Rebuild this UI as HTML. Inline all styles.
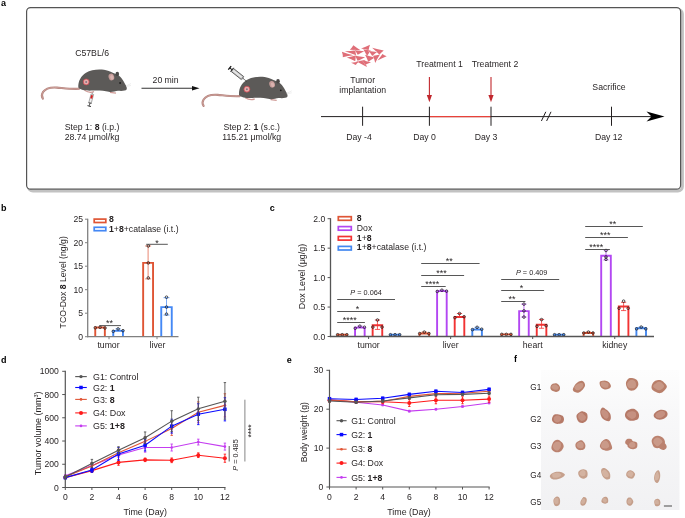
<!DOCTYPE html><html><head><meta charset="utf-8"><style>html,body{margin:0;padding:0;background:#fff;}svg{display:block;will-change:transform;font-family:"Liberation Sans",sans-serif;}</style></head><body>
<svg width="685" height="518" viewBox="0 0 685 518">
<rect width="685" height="518" fill="#fff"/>
<text x="1.00" y="5.80" font-size="9" text-anchor="start" font-weight="bold" fill="#000" >a</text>
<rect x="28.4" y="9.4" width="654" height="181.6" rx="4.5" fill="none" stroke="#c2c2c2" stroke-width="3"/>
<rect x="26.6" y="7.6" width="654" height="181.6" rx="4" fill="#fff" stroke="#555" stroke-width="1.2"/>
<text x="92.10" y="55.80" font-size="8.7" text-anchor="middle" font-weight="normal" fill="#231f20" >C57BL/6</text>
<text x="165.60" y="83.10" font-size="8.7" text-anchor="middle" font-weight="normal" fill="#231f20" >20 min</text>
<line x1="141.50" y1="88.20" x2="194.00" y2="88.20" stroke="#333" stroke-width="1.1"/>
<path d="M199.5,88.2 L192,85.9 L192,90.5 Z" fill="#111"/>
<text x="92.00" y="129.80" font-size="8.7" text-anchor="middle" font-weight="normal" fill="#231f20" >Step 1: <tspan font-weight="bold">8</tspan> (i.p.)</text>
<text x="92.00" y="140.10" font-size="8.7" text-anchor="middle" font-weight="normal" fill="#231f20" >28.74 μmol/kg</text>
<text x="251.70" y="129.80" font-size="8.7" text-anchor="middle" font-weight="normal" fill="#231f20" >Step 2: <tspan font-weight="bold">1</tspan> (s.c.)</text>
<text x="251.70" y="140.10" font-size="8.7" text-anchor="middle" font-weight="normal" fill="#231f20" >115.21 μmol/kg</text>
<g transform="translate(0,0)">
<path d="M79,88.8 C72,89.3 64,88.2 57,87.6 C50,87.1 45.2,88.8 42.9,92.2 C41.5,94.4 41.8,97 42.9,98.6" fill="none" stroke="#b3837d" stroke-width="2.1" stroke-linecap="round"/>
<path d="M79,88.8 C72,89.3 64,88.2 57,87.6 C50,87.1 45.2,88.8 42.9,92.2 C41.5,94.4 41.8,97 42.9,98.6" fill="none" stroke="#cfa19b" stroke-width="0.9" stroke-linecap="round"/>
<path d="M84.5,90.3 C88,92.5 92,92.5 94,91.5" fill="none" stroke="#cf9a96" stroke-width="1.3"/>
<path d="M110,92.3 L116,93.1" fill="none" stroke="#cf9a96" stroke-width="1.2"/>
<path d="M78.3,87.6 C78.0,81 81,76 86,72.8 C92,69 102,68.6 108,70.8 C112,72 114,73.5 116.5,74.3 C120,75.3 123,80 125.3,84.5 C126.4,86.4 127.3,88 126.6,89.5 C125.5,91 122,91 118,90.8 C115,91.2 112,92.5 108.8,91.8 C104,90.6 99,90.4 92,90.6 C86,90.8 80.5,90.2 78.3,87.6 Z" fill="#5c5a58"/>
<ellipse cx="117.3" cy="73.9" rx="1.8" ry="2.2" fill="#4a4846"/>
<ellipse cx="111.4" cy="77" rx="2.8" ry="3.4" fill="#c59b98" transform="rotate(-15 111.4 77)"/>
<ellipse cx="111.9" cy="77.4" rx="1.6" ry="2.3" fill="#d9b3b0" transform="rotate(-15 111.9 77.4)"/>
<circle cx="120.1" cy="83" r="0.9" fill="#1a1a1a"/>
<path d="M126,86 L131,83.5 M126,86.5 L131,85.5" stroke="#dcdcdc" stroke-width="0.5"/>
<circle cx="86.2" cy="81.9" r="3.0" fill="#e8a0a0" stroke="#c8404c" stroke-width="0.7"/>
<circle cx="86.2" cy="81.9" r="1.9" fill="#e4b4b0"/>
<circle cx="86.2" cy="81.9" r="1.0" fill="#8a7080"/>
</g>
<g transform="translate(90.8,100) rotate(15)">
<rect x="-1.3" y="-6" width="2.6" height="9" fill="#f0f0f0" stroke="#666" stroke-width="0.5"/>
<rect x="-1" y="-5" width="2" height="3.5" fill="#d42020"/>
<line x1="0" y1="-6" x2="0" y2="-8" stroke="#777" stroke-width="0.5"/>
<line x1="0" y1="3" x2="0" y2="6" stroke="#444" stroke-width="0.8"/>
<line x1="-1.8" y1="6.3" x2="1.8" y2="6.3" stroke="#222" stroke-width="1"/>
<line x1="-1.6" y1="3.2" x2="1.6" y2="3.2" stroke="#444" stroke-width="0.7"/>
</g>
<g transform="translate(160.7,7.3)">
<path d="M79,88.8 C72,89.3 64,88.2 57,87.6 C50,87.1 45.2,88.8 42.9,92.2 C41.5,94.4 41.8,97 42.9,98.6" fill="none" stroke="#b3837d" stroke-width="2.1" stroke-linecap="round"/>
<path d="M79,88.8 C72,89.3 64,88.2 57,87.6 C50,87.1 45.2,88.8 42.9,92.2 C41.5,94.4 41.8,97 42.9,98.6" fill="none" stroke="#cfa19b" stroke-width="0.9" stroke-linecap="round"/>
<path d="M84.5,90.3 C88,92.5 92,92.5 94,91.5" fill="none" stroke="#cf9a96" stroke-width="1.3"/>
<path d="M110,92.3 L116,93.1" fill="none" stroke="#cf9a96" stroke-width="1.2"/>
<path d="M78.3,87.6 C78.0,81 81,76 86,72.8 C92,69 102,68.6 108,70.8 C112,72 114,73.5 116.5,74.3 C120,75.3 123,80 125.3,84.5 C126.4,86.4 127.3,88 126.6,89.5 C125.5,91 122,91 118,90.8 C115,91.2 112,92.5 108.8,91.8 C104,90.6 99,90.4 92,90.6 C86,90.8 80.5,90.2 78.3,87.6 Z" fill="#5c5a58"/>
<ellipse cx="117.3" cy="73.9" rx="1.8" ry="2.2" fill="#4a4846"/>
<ellipse cx="111.4" cy="77" rx="2.8" ry="3.4" fill="#c59b98" transform="rotate(-15 111.4 77)"/>
<ellipse cx="111.9" cy="77.4" rx="1.6" ry="2.3" fill="#d9b3b0" transform="rotate(-15 111.9 77.4)"/>
<circle cx="120.1" cy="83" r="0.9" fill="#1a1a1a"/>
<path d="M126,86 L131,83.5 M126,86.5 L131,85.5" stroke="#dcdcdc" stroke-width="0.5"/>
<circle cx="86.2" cy="81.9" r="3.0" fill="#e8a0a0" stroke="#c8404c" stroke-width="0.7"/>
<circle cx="86.2" cy="81.9" r="1.9" fill="#e4b4b0"/>
<circle cx="86.2" cy="81.9" r="1.0" fill="#8a7080"/>
</g>
<g transform="translate(237.8,74.3) rotate(38.5)">
<rect x="-7" y="-1.9" width="13" height="3.8" fill="#c4c4c4" stroke="#3a3a3a" stroke-width="0.7"/>
<rect x="-6" y="-0.9" width="11" height="1.8" fill="#e6e6e6"/>
<path d="M6,-1.3 L7.6,-0.5 L7.6,0.5 L6,1.3 Z" fill="#888"/>
<line x1="7.6" y1="0" x2="11.5" y2="0" stroke="#333" stroke-width="0.6"/>
<line x1="-7" y1="0" x2="-10" y2="0" stroke="#222" stroke-width="1.1"/>
<line x1="-10.3" y1="-2.3" x2="-10.3" y2="2.3" stroke="#111" stroke-width="1.3"/>
<line x1="-7.4" y1="-2.4" x2="-7.4" y2="2.4" stroke="#222" stroke-width="0.9"/>
</g>
<line x1="321.00" y1="116.60" x2="652.00" y2="116.60" stroke="#231f20" stroke-width="1"/>
<line x1="429.40" y1="116.60" x2="491.00" y2="116.60" stroke="#e8423a" stroke-width="1.1"/>
<line x1="362.60" y1="106.70" x2="362.60" y2="125.80" stroke="#231f20" stroke-width="1"/>
<line x1="429.40" y1="106.70" x2="429.40" y2="125.80" stroke="#231f20" stroke-width="1"/>
<line x1="491.00" y1="106.70" x2="491.00" y2="125.80" stroke="#231f20" stroke-width="1"/>
<line x1="611.50" y1="106.70" x2="611.50" y2="125.80" stroke="#231f20" stroke-width="1"/>
<path d="M664.5,116.6 L646.5,111.6 L651.5,116.6 L646.5,121.6 Z" fill="#000"/>
<line x1="541.40" y1="121.00" x2="545.80" y2="111.80" stroke="#231f20" stroke-width="1"/>
<line x1="546.60" y1="121.00" x2="551.00" y2="111.80" stroke="#231f20" stroke-width="1"/>
<text x="359.00" y="140.10" font-size="8.7" text-anchor="middle" font-weight="normal" fill="#231f20" >Day -4</text>
<text x="424.60" y="140.10" font-size="8.7" text-anchor="middle" font-weight="normal" fill="#231f20" >Day 0</text>
<text x="486.00" y="140.10" font-size="8.7" text-anchor="middle" font-weight="normal" fill="#231f20" >Day 3</text>
<text x="608.70" y="140.30" font-size="8.7" text-anchor="middle" font-weight="normal" fill="#231f20" >Day 12</text>
<text x="439.60" y="67.00" font-size="8.7" text-anchor="middle" font-weight="normal" fill="#231f20" >Treatment 1</text>
<text x="495.00" y="67.00" font-size="8.7" text-anchor="middle" font-weight="normal" fill="#231f20" >Treatment 2</text>
<text x="609.00" y="89.90" font-size="8.7" text-anchor="middle" font-weight="normal" fill="#231f20" >Sacrifice</text>
<text x="362.70" y="83.40" font-size="8.7" text-anchor="middle" font-weight="normal" fill="#231f20" >Tumor</text>
<text x="362.70" y="93.40" font-size="8.7" text-anchor="middle" font-weight="normal" fill="#231f20" >implantation</text>
<line x1="429.40" y1="77.00" x2="429.40" y2="96.00" stroke="#c1272d" stroke-width="1.1"/>
<path d="M426.79999999999995,95 L432.0,95 L429.4,102.3 Z" fill="#c1272d"/>
<line x1="491.00" y1="77.00" x2="491.00" y2="96.00" stroke="#c1272d" stroke-width="1.1"/>
<path d="M488.4,95 L493.6,95 L491.0,102.3 Z" fill="#c1272d"/>
<g transform="translate(338,40) scale(0.07593)">
<path d="M51.6,153.9 Q125.1,180.0 205.0,201.1 Q130.1,211.1 63.4,227.0 Q64.9,191.0 51.6,153.9 Z" fill="#df6e78" stroke="#fff" stroke-width="5.5" stroke-linejoin="round" paint-order="stroke"/>
<path d="M155.4,127.7 Q184.9,100.0 202.6,68.7 Q245.1,102.5 297.0,133.6 Q225.0,127.6 155.4,127.7 Z" fill="#df6e78" stroke="#fff" stroke-width="5.5" stroke-linejoin="round" paint-order="stroke"/>
<path d="M303.9,113.3 Q365.0,91.0 421.9,63.8 Q407.6,101.0 404.2,136.9 Q357.4,122.1 303.9,113.3 Z" fill="#df6e78" stroke="#fff" stroke-width="5.5" stroke-linejoin="round" paint-order="stroke"/>
<path d="M449.2,101.3 Q527.0,123.9 602.6,139.0 Q568.6,164.1 547.2,195.7 Q503.4,148.0 449.2,101.3 Z" fill="#df6e78" stroke="#fff" stroke-width="5.5" stroke-linejoin="round" paint-order="stroke"/>
<path d="M520.6,269.1 Q557.4,226.0 585.5,184.2 Q608.6,202.4 640.9,213.7 Q581.0,238.5 520.6,269.1 Z" fill="#df6e78" stroke="#fff" stroke-width="5.5" stroke-linejoin="round" paint-order="stroke"/>
<path d="M90.2,148.0 Q164.9,143.9 231.8,133.9 Q228.6,166.5 240.0,201.1 Q168.4,172.5 90.2,148.0 Z" fill="#df6e78" stroke="#fff" stroke-width="5.5" stroke-linejoin="round" paint-order="stroke"/>
<path d="M219.5,136.5 Q281.5,145.0 345.8,148.3 Q298.6,169.0 259.7,193.2 Q244.9,164.0 219.5,136.5 Z" fill="#df6e78" stroke="#fff" stroke-width="5.5" stroke-linejoin="round" paint-order="stroke"/>
<path d="M332.4,122.7 Q382.5,133.9 432.7,136.8 Q403.6,172.5 381.9,213.5 Q360.9,166.5 332.4,122.7 Z" fill="#df6e78" stroke="#fff" stroke-width="5.5" stroke-linejoin="round" paint-order="stroke"/>
<path d="M404.0,146.1 Q458.5,154.9 513.8,157.9 Q478.6,182.5 451.2,211.0 Q431.9,177.5 404.0,146.1 Z" fill="#df6e78" stroke="#fff" stroke-width="5.5" stroke-linejoin="round" paint-order="stroke"/>
<path d="M115.9,231.2 Q181.5,218.4 242.2,199.4 Q228.6,238.5 226.9,278.4 Q174.9,252.0 115.9,231.2 Z" fill="#df6e78" stroke="#fff" stroke-width="5.5" stroke-linejoin="round" paint-order="stroke"/>
<path d="M223.4,207.4 Q288.5,219.9 356.8,226.3 Q303.6,250.0 258.8,278.2 Q246.9,242.0 223.4,207.4 Z" fill="#df6e78" stroke="#fff" stroke-width="5.5" stroke-linejoin="round" paint-order="stroke"/>
<path d="M356.2,193.2 Q420.0,215.9 486.0,230.9 Q438.6,257.1 399.8,289.9 Q383.4,241.0 356.2,193.2 Z" fill="#df6e78" stroke="#fff" stroke-width="5.5" stroke-linejoin="round" paint-order="stroke"/>
<path d="M461.9,205.8 Q506.5,203.9 552.8,191.6 Q518.6,245.0 490.3,302.6 Q479.9,251.1 461.9,205.8 Z" fill="#df6e78" stroke="#fff" stroke-width="5.5" stroke-linejoin="round" paint-order="stroke"/>
<path d="M156.6,255.2 Q189.9,281.9 215.6,302.4 Q235.1,318.6 262.8,341.4 Q210.0,298.5 156.6,255.2 Z" fill="#df6e78" stroke="#fff" stroke-width="5.5" stroke-linejoin="round" paint-order="stroke"/>
<path d="M236.6,278.9 Q300.9,274.9 356.9,262.4 Q362.1,308.0 380.5,356.8 Q311.0,315.0 236.6,278.9 Z" fill="#df6e78" stroke="#fff" stroke-width="5.5" stroke-linejoin="round" paint-order="stroke"/>
<path d="M316.8,263.3 Q375.0,280.0 434.8,291.6 Q393.6,307.0 360.4,327.0 Q343.4,295.0 316.8,263.3 Z" fill="#df6e78" stroke="#fff" stroke-width="5.5" stroke-linejoin="round" paint-order="stroke"/>
<path d="M171.6,299.4 Q225.0,292.5 277.8,281.7 Q250.1,305.0 230.6,328.9 Q204.9,312.5 171.6,299.4 Z" fill="#df6e78" stroke="#fff" stroke-width="5.5" stroke-linejoin="round" paint-order="stroke"/>
</g>
<text x="1.00" y="210.70" font-size="9" text-anchor="start" font-weight="bold" fill="#000" >b</text>
<path d="M95.25,336.70 L95.25,327.49 L104.85,327.49 L104.85,336.70" fill="#fff" stroke="#df5535" stroke-width="1.9"/>
<path d="M113.25,336.70 L113.25,330.92 L122.95,330.92 L122.95,336.70" fill="#fff" stroke="#4488f5" stroke-width="1.9"/>
<path d="M143.15,336.70 L143.15,262.91 L153.05,262.91 L153.05,336.70" fill="#fff" stroke="#df5535" stroke-width="1.9"/>
<path d="M161.25,336.70 L161.25,307.09 L171.75,307.09 L171.75,336.70" fill="#fff" stroke="#4488f5" stroke-width="1.9"/>
<line x1="148.10" y1="245.99" x2="148.10" y2="278.89" stroke="#df5535" stroke-width="0.7"/>
<line x1="145.10" y1="245.99" x2="151.10" y2="245.99" stroke="#df5535" stroke-width="0.7"/>
<line x1="145.10" y1="278.89" x2="151.10" y2="278.89" stroke="#df5535" stroke-width="0.7"/>
<line x1="166.50" y1="297.69" x2="166.50" y2="315.08" stroke="#4488f5" stroke-width="0.7"/>
<line x1="163.50" y1="297.69" x2="169.50" y2="297.69" stroke="#4488f5" stroke-width="0.7"/>
<line x1="163.50" y1="315.08" x2="169.50" y2="315.08" stroke="#4488f5" stroke-width="0.7"/>
<line x1="118.10" y1="328.90" x2="118.10" y2="330.92" stroke="#4488f5" stroke-width="0.8"/>
<line x1="115.50" y1="328.90" x2="120.70" y2="328.90" stroke="#4488f5" stroke-width="0.8"/>
<circle cx="95.30" cy="327.77" r="1.3" fill="none" stroke="#1a1a1a" stroke-width="0.75"/>
<circle cx="100.10" cy="327.30" r="1.3" fill="none" stroke="#1a1a1a" stroke-width="0.75"/>
<circle cx="105.00" cy="328.00" r="1.3" fill="none" stroke="#1a1a1a" stroke-width="0.75"/>
<circle cx="113.30" cy="331.30" r="1.3" fill="none" stroke="#1a1a1a" stroke-width="0.75"/>
<circle cx="118.10" cy="328.90" r="1.3" fill="none" stroke="#1a1a1a" stroke-width="0.75"/>
<circle cx="123.00" cy="330.68" r="1.3" fill="none" stroke="#1a1a1a" stroke-width="0.75"/>
<circle cx="148.30" cy="245.99" r="1.3" fill="none" stroke="#1a1a1a" stroke-width="0.75"/>
<circle cx="148.30" cy="262.91" r="1.3" fill="none" stroke="#1a1a1a" stroke-width="0.75"/>
<circle cx="148.30" cy="277.95" r="1.3" fill="none" stroke="#1a1a1a" stroke-width="0.75"/>
<circle cx="166.50" cy="297.22" r="1.3" fill="none" stroke="#1a1a1a" stroke-width="0.75"/>
<circle cx="166.50" cy="307.09" r="1.3" fill="none" stroke="#1a1a1a" stroke-width="0.75"/>
<circle cx="166.50" cy="314.14" r="1.3" fill="none" stroke="#1a1a1a" stroke-width="0.75"/>
<line x1="87.70" y1="218.80" x2="87.70" y2="337.30" stroke="#808080" stroke-width="1.3"/>
<line x1="87.00" y1="336.70" x2="178.50" y2="336.70" stroke="#808080" stroke-width="1.3"/>
<line x1="85.00" y1="336.70" x2="87.70" y2="336.70" stroke="#808080" stroke-width="1.0"/>
<text x="83.00" y="339.70" font-size="8.6" text-anchor="end" font-weight="normal" fill="#231f20" >0</text>
<line x1="85.00" y1="313.20" x2="87.70" y2="313.20" stroke="#808080" stroke-width="1.0"/>
<text x="83.00" y="316.20" font-size="8.6" text-anchor="end" font-weight="normal" fill="#231f20" >5</text>
<line x1="85.00" y1="289.70" x2="87.70" y2="289.70" stroke="#808080" stroke-width="1.0"/>
<text x="83.00" y="292.70" font-size="8.6" text-anchor="end" font-weight="normal" fill="#231f20" >10</text>
<line x1="85.00" y1="266.20" x2="87.70" y2="266.20" stroke="#808080" stroke-width="1.0"/>
<text x="83.00" y="269.20" font-size="8.6" text-anchor="end" font-weight="normal" fill="#231f20" >15</text>
<line x1="85.00" y1="242.70" x2="87.70" y2="242.70" stroke="#808080" stroke-width="1.0"/>
<text x="83.00" y="245.70" font-size="8.6" text-anchor="end" font-weight="normal" fill="#231f20" >20</text>
<line x1="85.00" y1="219.20" x2="87.70" y2="219.20" stroke="#808080" stroke-width="1.0"/>
<text x="83.00" y="222.20" font-size="8.6" text-anchor="end" font-weight="normal" fill="#231f20" >25</text>
<line x1="109.00" y1="336.70" x2="109.00" y2="339.20" stroke="#808080" stroke-width="1"/>
<line x1="157.00" y1="336.70" x2="157.00" y2="339.20" stroke="#808080" stroke-width="1"/>
<text x="108.50" y="347.50" font-size="8.7" text-anchor="middle" font-weight="normal" fill="#231f20" >tumor</text>
<text x="157.50" y="347.50" font-size="8.7" text-anchor="middle" font-weight="normal" fill="#231f20" >liver</text>
<text transform="translate(66.3,282.3) rotate(-90)" font-size="8.7" text-anchor="middle" fill="#231f20">TCO-Dox <tspan font-weight="bold">8</tspan> Level (ng/g)</text>
<rect x="94.2" y="219.1" width="11.6" height="3.4" fill="#fff" stroke="#df5535" stroke-width="1.7"/>
<rect x="94.2" y="227.3" width="11.6" height="3.4" fill="#fff" stroke="#4488f5" stroke-width="1.7"/>
<text x="109.00" y="222.20" font-size="8.7" text-anchor="start" font-weight="bold" fill="#231f20" >8</text>
<text x="109.00" y="232.00" font-size="8.7" text-anchor="start" font-weight="normal" fill="#231f20" ><tspan font-weight="bold">1</tspan>+<tspan font-weight="bold">8</tspan>+catalase (i.t.)</text>
<line x1="99.30" y1="325.60" x2="121.00" y2="325.60" stroke="#444" stroke-width="0.9"/>
<text x="109.50" y="326.10" font-size="9.0" text-anchor="middle" font-weight="normal" fill="#231f20" >**</text>
<line x1="146.20" y1="244.30" x2="167.80" y2="244.30" stroke="#444" stroke-width="0.9"/>
<text x="157.00" y="246.00" font-size="9.0" text-anchor="middle" font-weight="normal" fill="#231f20" >*</text>
<text x="269.80" y="210.70" font-size="9" text-anchor="start" font-weight="bold" fill="#000" >c</text>
<path d="M337.45,336.50 L337.45,334.73 L347.05,334.73 L347.05,336.50" fill="#fff" stroke="#df5535" stroke-width="1.9"/>
<circle cx="337.65" cy="334.73" r="1.3" fill="none" stroke="#1a1a1a" stroke-width="0.75"/>
<circle cx="342.25" cy="334.73" r="1.3" fill="none" stroke="#1a1a1a" stroke-width="0.75"/>
<circle cx="346.85" cy="334.73" r="1.3" fill="none" stroke="#1a1a1a" stroke-width="0.75"/>
<path d="M355.05,336.50 L355.05,327.67 L364.65,327.67 L364.65,336.50" fill="#fff" stroke="#b347f2" stroke-width="1.9"/>
<line x1="359.85" y1="326.19" x2="359.85" y2="327.67" stroke="#b347f2" stroke-width="0.8"/>
<line x1="357.25" y1="326.19" x2="362.45" y2="326.19" stroke="#b347f2" stroke-width="0.8"/>
<circle cx="355.25" cy="328.25" r="1.3" fill="none" stroke="#1a1a1a" stroke-width="0.75"/>
<circle cx="359.85" cy="326.19" r="1.3" fill="none" stroke="#1a1a1a" stroke-width="0.75"/>
<circle cx="364.45" cy="327.25" r="1.3" fill="none" stroke="#1a1a1a" stroke-width="0.75"/>
<path d="M372.65,336.50 L372.65,325.31 L382.25,325.31 L382.25,336.50" fill="#fff" stroke="#f23333" stroke-width="1.9"/>
<line x1="377.45" y1="320.01" x2="377.45" y2="329.43" stroke="#f23333" stroke-width="0.8"/>
<line x1="374.85" y1="320.01" x2="380.05" y2="320.01" stroke="#f23333" stroke-width="0.8"/>
<line x1="374.85" y1="329.43" x2="380.05" y2="329.43" stroke="#f23333" stroke-width="0.8"/>
<circle cx="372.85" cy="327.08" r="1.3" fill="none" stroke="#1a1a1a" stroke-width="0.75"/>
<circle cx="377.45" cy="320.01" r="1.3" fill="none" stroke="#1a1a1a" stroke-width="0.75"/>
<circle cx="382.05" cy="327.08" r="1.3" fill="none" stroke="#1a1a1a" stroke-width="0.75"/>
<path d="M390.25,336.50 L390.25,334.73 L399.85,334.73 L399.85,336.50" fill="#fff" stroke="#4488f0" stroke-width="1.9"/>
<circle cx="390.45" cy="334.73" r="1.3" fill="none" stroke="#1a1a1a" stroke-width="0.75"/>
<circle cx="395.05" cy="334.73" r="1.3" fill="none" stroke="#1a1a1a" stroke-width="0.75"/>
<circle cx="399.65" cy="334.73" r="1.3" fill="none" stroke="#1a1a1a" stroke-width="0.75"/>
<path d="M419.50,336.50 L419.50,333.56 L429.10,333.56 L429.10,336.50" fill="#fff" stroke="#df5535" stroke-width="1.9"/>
<line x1="424.30" y1="332.08" x2="424.30" y2="333.56" stroke="#df5535" stroke-width="0.8"/>
<line x1="421.70" y1="332.08" x2="426.90" y2="332.08" stroke="#df5535" stroke-width="0.8"/>
<circle cx="419.70" cy="333.56" r="1.3" fill="none" stroke="#1a1a1a" stroke-width="0.75"/>
<circle cx="424.30" cy="332.08" r="1.3" fill="none" stroke="#1a1a1a" stroke-width="0.75"/>
<circle cx="428.90" cy="333.56" r="1.3" fill="none" stroke="#1a1a1a" stroke-width="0.75"/>
<path d="M437.10,336.50 L437.10,291.15 L446.70,291.15 L446.70,336.50" fill="#fff" stroke="#b347f2" stroke-width="1.9"/>
<line x1="441.90" y1="290.20" x2="441.90" y2="291.15" stroke="#b347f2" stroke-width="0.8"/>
<line x1="439.30" y1="290.20" x2="444.50" y2="290.20" stroke="#b347f2" stroke-width="0.8"/>
<circle cx="437.30" cy="291.44" r="1.3" fill="none" stroke="#1a1a1a" stroke-width="0.75"/>
<circle cx="441.90" cy="290.20" r="1.3" fill="none" stroke="#1a1a1a" stroke-width="0.75"/>
<circle cx="446.50" cy="291.15" r="1.3" fill="none" stroke="#1a1a1a" stroke-width="0.75"/>
<path d="M454.70,336.50 L454.70,317.06 L464.30,317.06 L464.30,336.50" fill="#fff" stroke="#f23333" stroke-width="1.9"/>
<line x1="459.50" y1="313.53" x2="459.50" y2="317.06" stroke="#f23333" stroke-width="0.8"/>
<line x1="456.90" y1="313.53" x2="462.10" y2="313.53" stroke="#f23333" stroke-width="0.8"/>
<circle cx="454.90" cy="317.65" r="1.3" fill="none" stroke="#1a1a1a" stroke-width="0.75"/>
<circle cx="459.50" cy="313.53" r="1.3" fill="none" stroke="#1a1a1a" stroke-width="0.75"/>
<circle cx="464.10" cy="316.71" r="1.3" fill="none" stroke="#1a1a1a" stroke-width="0.75"/>
<path d="M472.30,336.50 L472.30,329.43 L481.90,329.43 L481.90,336.50" fill="#fff" stroke="#4488f0" stroke-width="1.9"/>
<line x1="477.10" y1="327.31" x2="477.10" y2="329.43" stroke="#4488f0" stroke-width="0.8"/>
<line x1="474.50" y1="327.31" x2="479.70" y2="327.31" stroke="#4488f0" stroke-width="0.8"/>
<circle cx="472.50" cy="329.61" r="1.3" fill="none" stroke="#1a1a1a" stroke-width="0.75"/>
<circle cx="477.10" cy="327.31" r="1.3" fill="none" stroke="#1a1a1a" stroke-width="0.75"/>
<circle cx="481.70" cy="329.20" r="1.3" fill="none" stroke="#1a1a1a" stroke-width="0.75"/>
<path d="M501.55,336.50 L501.55,334.38 L511.15,334.38 L511.15,336.50" fill="#fff" stroke="#df5535" stroke-width="1.9"/>
<circle cx="501.75" cy="334.38" r="1.3" fill="none" stroke="#1a1a1a" stroke-width="0.75"/>
<circle cx="506.35" cy="334.38" r="1.3" fill="none" stroke="#1a1a1a" stroke-width="0.75"/>
<circle cx="510.95" cy="334.38" r="1.3" fill="none" stroke="#1a1a1a" stroke-width="0.75"/>
<path d="M519.15,336.50 L519.15,311.17 L528.75,311.17 L528.75,336.50" fill="#fff" stroke="#b347f2" stroke-width="1.9"/>
<line x1="523.95" y1="304.11" x2="523.95" y2="317.06" stroke="#b347f2" stroke-width="0.8"/>
<line x1="521.35" y1="304.11" x2="526.55" y2="304.11" stroke="#b347f2" stroke-width="0.8"/>
<line x1="521.35" y1="317.06" x2="526.55" y2="317.06" stroke="#b347f2" stroke-width="0.8"/>
<circle cx="523.95" cy="304.11" r="1.3" fill="none" stroke="#1a1a1a" stroke-width="0.75"/>
<circle cx="523.95" cy="310.88" r="1.3" fill="none" stroke="#1a1a1a" stroke-width="0.75"/>
<circle cx="523.95" cy="317.06" r="1.3" fill="none" stroke="#1a1a1a" stroke-width="0.75"/>
<path d="M536.75,336.50 L536.75,324.72 L546.35,324.72 L546.35,336.50" fill="#fff" stroke="#f23333" stroke-width="1.9"/>
<line x1="541.55" y1="319.42" x2="541.55" y2="328.25" stroke="#f23333" stroke-width="0.8"/>
<line x1="538.95" y1="319.42" x2="544.15" y2="319.42" stroke="#f23333" stroke-width="0.8"/>
<line x1="538.95" y1="328.25" x2="544.15" y2="328.25" stroke="#f23333" stroke-width="0.8"/>
<circle cx="536.95" cy="326.31" r="1.3" fill="none" stroke="#1a1a1a" stroke-width="0.75"/>
<circle cx="541.55" cy="319.60" r="1.3" fill="none" stroke="#1a1a1a" stroke-width="0.75"/>
<circle cx="546.15" cy="325.72" r="1.3" fill="none" stroke="#1a1a1a" stroke-width="0.75"/>
<path d="M554.35,336.50 L554.35,334.73 L563.95,334.73 L563.95,336.50" fill="#fff" stroke="#4488f0" stroke-width="1.9"/>
<circle cx="554.55" cy="334.73" r="1.3" fill="none" stroke="#1a1a1a" stroke-width="0.75"/>
<circle cx="559.15" cy="334.73" r="1.3" fill="none" stroke="#1a1a1a" stroke-width="0.75"/>
<circle cx="563.75" cy="334.73" r="1.3" fill="none" stroke="#1a1a1a" stroke-width="0.75"/>
<path d="M583.60,336.50 L583.60,332.97 L593.20,332.97 L593.20,336.50" fill="#fff" stroke="#df5535" stroke-width="1.9"/>
<line x1="588.40" y1="332.08" x2="588.40" y2="332.97" stroke="#df5535" stroke-width="0.8"/>
<line x1="585.80" y1="332.08" x2="591.00" y2="332.08" stroke="#df5535" stroke-width="0.8"/>
<circle cx="583.80" cy="332.97" r="1.3" fill="none" stroke="#1a1a1a" stroke-width="0.75"/>
<circle cx="588.40" cy="332.08" r="1.3" fill="none" stroke="#1a1a1a" stroke-width="0.75"/>
<circle cx="593.00" cy="332.97" r="1.3" fill="none" stroke="#1a1a1a" stroke-width="0.75"/>
<path d="M601.20,336.50 L601.20,255.81 L610.80,255.81 L610.80,336.50" fill="#fff" stroke="#b347f2" stroke-width="1.9"/>
<line x1="606.00" y1="249.92" x2="606.00" y2="259.93" stroke="#b347f2" stroke-width="0.8"/>
<line x1="603.40" y1="249.92" x2="608.60" y2="249.92" stroke="#b347f2" stroke-width="0.8"/>
<line x1="603.40" y1="259.93" x2="608.60" y2="259.93" stroke="#b347f2" stroke-width="0.8"/>
<circle cx="606.00" cy="250.51" r="1.3" fill="none" stroke="#1a1a1a" stroke-width="0.75"/>
<circle cx="606.00" cy="256.99" r="1.3" fill="none" stroke="#1a1a1a" stroke-width="0.75"/>
<circle cx="606.00" cy="259.34" r="1.3" fill="none" stroke="#1a1a1a" stroke-width="0.75"/>
<path d="M618.80,336.50 L618.80,306.46 L628.40,306.46 L628.40,336.50" fill="#fff" stroke="#f23333" stroke-width="1.9"/>
<line x1="623.60" y1="302.34" x2="623.60" y2="310.58" stroke="#f23333" stroke-width="0.8"/>
<line x1="621.00" y1="302.34" x2="626.20" y2="302.34" stroke="#f23333" stroke-width="0.8"/>
<line x1="621.00" y1="310.58" x2="626.20" y2="310.58" stroke="#f23333" stroke-width="0.8"/>
<circle cx="619.00" cy="308.23" r="1.3" fill="none" stroke="#1a1a1a" stroke-width="0.75"/>
<circle cx="623.60" cy="301.16" r="1.3" fill="none" stroke="#1a1a1a" stroke-width="0.75"/>
<circle cx="628.20" cy="308.23" r="1.3" fill="none" stroke="#1a1a1a" stroke-width="0.75"/>
<path d="M636.40,336.50 L636.40,328.25 L646.00,328.25 L646.00,336.50" fill="#fff" stroke="#4488f0" stroke-width="1.9"/>
<line x1="641.20" y1="327.08" x2="641.20" y2="328.25" stroke="#4488f0" stroke-width="0.8"/>
<line x1="638.60" y1="327.08" x2="643.80" y2="327.08" stroke="#4488f0" stroke-width="0.8"/>
<circle cx="636.60" cy="328.84" r="1.3" fill="none" stroke="#1a1a1a" stroke-width="0.75"/>
<circle cx="641.20" cy="327.08" r="1.3" fill="none" stroke="#1a1a1a" stroke-width="0.75"/>
<circle cx="645.80" cy="328.84" r="1.3" fill="none" stroke="#1a1a1a" stroke-width="0.75"/>
<line x1="330.50" y1="218.20" x2="330.50" y2="337.10" stroke="#555" stroke-width="1.3"/>
<line x1="329.80" y1="336.50" x2="654.00" y2="336.50" stroke="#555" stroke-width="1.3"/>
<line x1="327.60" y1="336.50" x2="330.50" y2="336.50" stroke="#555" stroke-width="1.0"/>
<text x="325.30" y="339.50" font-size="8.6" text-anchor="end" font-weight="normal" fill="#231f20" >0.0</text>
<line x1="327.60" y1="307.05" x2="330.50" y2="307.05" stroke="#555" stroke-width="1.0"/>
<text x="325.30" y="310.05" font-size="8.6" text-anchor="end" font-weight="normal" fill="#231f20" >0.5</text>
<line x1="327.60" y1="277.60" x2="330.50" y2="277.60" stroke="#555" stroke-width="1.0"/>
<text x="325.30" y="280.60" font-size="8.6" text-anchor="end" font-weight="normal" fill="#231f20" >1.0</text>
<line x1="327.60" y1="248.15" x2="330.50" y2="248.15" stroke="#555" stroke-width="1.0"/>
<text x="325.30" y="251.15" font-size="8.6" text-anchor="end" font-weight="normal" fill="#231f20" >1.5</text>
<line x1="327.60" y1="218.70" x2="330.50" y2="218.70" stroke="#555" stroke-width="1.0"/>
<text x="325.30" y="221.70" font-size="8.6" text-anchor="end" font-weight="normal" fill="#231f20" >2.0</text>
<line x1="368.60" y1="336.50" x2="368.60" y2="339.00" stroke="#555" stroke-width="1"/>
<text x="368.60" y="347.60" font-size="8.7" text-anchor="middle" font-weight="normal" fill="#231f20" >tumor</text>
<line x1="450.65" y1="336.50" x2="450.65" y2="339.00" stroke="#555" stroke-width="1"/>
<text x="450.65" y="347.60" font-size="8.7" text-anchor="middle" font-weight="normal" fill="#231f20" >liver</text>
<line x1="532.70" y1="336.50" x2="532.70" y2="339.00" stroke="#555" stroke-width="1"/>
<text x="532.70" y="347.60" font-size="8.7" text-anchor="middle" font-weight="normal" fill="#231f20" >heart</text>
<line x1="614.75" y1="336.50" x2="614.75" y2="339.00" stroke="#555" stroke-width="1"/>
<text x="614.75" y="347.60" font-size="8.7" text-anchor="middle" font-weight="normal" fill="#231f20" >kidney</text>
<text transform="translate(304.7,276.5) rotate(-90)" font-size="8.9" text-anchor="middle" fill="#231f20">Dox Level (μg/g)</text>
<rect x="338.3" y="216.70" width="13" height="3.6" fill="#fff" stroke="#df5535" stroke-width="1.7"/>
<text x="356.80" y="220.70" font-size="8.7" text-anchor="start" font-weight="normal" fill="#231f20" ><tspan font-weight="bold">8</tspan></text>
<rect x="338.3" y="226.60" width="13" height="3.6" fill="#fff" stroke="#b347f2" stroke-width="1.7"/>
<text x="356.80" y="230.60" font-size="8.7" text-anchor="start" font-weight="normal" fill="#231f20" >Dox</text>
<rect x="338.3" y="236.50" width="13" height="3.6" fill="#fff" stroke="#f23333" stroke-width="1.7"/>
<text x="356.80" y="240.50" font-size="8.7" text-anchor="start" font-weight="normal" fill="#231f20" ><tspan font-weight="bold">1</tspan>+<tspan font-weight="bold">8</tspan></text>
<rect x="338.3" y="246.40" width="13" height="3.6" fill="#fff" stroke="#4488f0" stroke-width="1.7"/>
<text x="356.80" y="250.40" font-size="8.7" text-anchor="start" font-weight="normal" fill="#231f20" ><tspan font-weight="bold">1</tspan>+<tspan font-weight="bold">8</tspan>+catalase (i.t.)</text>
<line x1="337.20" y1="322.50" x2="364.90" y2="322.50" stroke="#444" stroke-width="0.9"/>
<text x="349.85" y="323.10" font-size="9.0" text-anchor="middle" font-weight="normal" fill="#231f20" >****</text>
<line x1="337.20" y1="311.50" x2="380.10" y2="311.50" stroke="#444" stroke-width="0.9"/>
<text x="357.45" y="312.10" font-size="9.0" text-anchor="middle" font-weight="normal" fill="#231f20" >*</text>
<line x1="337.20" y1="299.50" x2="395.00" y2="299.50" stroke="#444" stroke-width="0.9"/>
<text x="366.10" y="295.40" font-size="7.3" text-anchor="middle" font-weight="normal" fill="#231f20" ><tspan font-style="italic">P</tspan> = 0.064</text>
<line x1="421.20" y1="286.50" x2="445.70" y2="286.50" stroke="#444" stroke-width="0.9"/>
<text x="432.25" y="287.10" font-size="9.0" text-anchor="middle" font-weight="normal" fill="#231f20" >****</text>
<line x1="421.20" y1="275.50" x2="464.10" y2="275.50" stroke="#444" stroke-width="0.9"/>
<text x="441.45" y="276.10" font-size="9.0" text-anchor="middle" font-weight="normal" fill="#231f20" >***</text>
<line x1="421.20" y1="263.50" x2="479.60" y2="263.50" stroke="#444" stroke-width="0.9"/>
<text x="449.20" y="264.10" font-size="9.0" text-anchor="middle" font-weight="normal" fill="#231f20" >**</text>
<line x1="501.20" y1="301.50" x2="525.40" y2="301.50" stroke="#444" stroke-width="0.9"/>
<text x="512.10" y="302.10" font-size="9.0" text-anchor="middle" font-weight="normal" fill="#231f20" >**</text>
<line x1="501.20" y1="290.50" x2="544.10" y2="290.50" stroke="#444" stroke-width="0.9"/>
<text x="521.45" y="291.10" font-size="9.0" text-anchor="middle" font-weight="normal" fill="#231f20" >*</text>
<line x1="501.20" y1="279.50" x2="559.20" y2="279.50" stroke="#444" stroke-width="0.9"/>
<text x="531.70" y="274.80" font-size="7.3" text-anchor="middle" font-weight="normal" fill="#231f20" ><tspan font-style="italic">P</tspan> = 0.409</text>
<line x1="585.20" y1="249.50" x2="609.90" y2="249.50" stroke="#444" stroke-width="0.9"/>
<text x="596.35" y="250.10" font-size="9.0" text-anchor="middle" font-weight="normal" fill="#231f20" >****</text>
<line x1="585.20" y1="237.50" x2="627.90" y2="237.50" stroke="#444" stroke-width="0.9"/>
<text x="605.35" y="238.10" font-size="9.0" text-anchor="middle" font-weight="normal" fill="#231f20" >***</text>
<line x1="585.20" y1="226.50" x2="642.80" y2="226.50" stroke="#444" stroke-width="0.9"/>
<text x="612.80" y="227.10" font-size="9.0" text-anchor="middle" font-weight="normal" fill="#231f20" >**</text>
<text x="1.00" y="362.50" font-size="9" text-anchor="start" font-weight="bold" fill="#000" >d</text>
<line x1="65.30" y1="474.72" x2="65.30" y2="477.04" stroke="#c43cf0" stroke-width="0.9"/>
<line x1="64.10" y1="474.72" x2="66.50" y2="474.72" stroke="#c43cf0" stroke-width="0.9"/>
<line x1="64.10" y1="477.04" x2="66.50" y2="477.04" stroke="#c43cf0" stroke-width="0.9"/>
<line x1="91.90" y1="463.10" x2="91.90" y2="467.75" stroke="#c43cf0" stroke-width="0.9"/>
<line x1="90.70" y1="463.10" x2="93.10" y2="463.10" stroke="#c43cf0" stroke-width="0.9"/>
<line x1="90.70" y1="467.75" x2="93.10" y2="467.75" stroke="#c43cf0" stroke-width="0.9"/>
<line x1="118.50" y1="452.64" x2="118.50" y2="457.29" stroke="#c43cf0" stroke-width="0.9"/>
<line x1="117.30" y1="452.64" x2="119.70" y2="452.64" stroke="#c43cf0" stroke-width="0.9"/>
<line x1="117.30" y1="457.29" x2="119.70" y2="457.29" stroke="#c43cf0" stroke-width="0.9"/>
<line x1="145.10" y1="442.88" x2="145.10" y2="452.18" stroke="#c43cf0" stroke-width="0.9"/>
<line x1="143.90" y1="442.88" x2="146.30" y2="442.88" stroke="#c43cf0" stroke-width="0.9"/>
<line x1="143.90" y1="452.18" x2="146.30" y2="452.18" stroke="#c43cf0" stroke-width="0.9"/>
<line x1="171.70" y1="444.04" x2="171.70" y2="451.01" stroke="#c43cf0" stroke-width="0.9"/>
<line x1="170.50" y1="444.04" x2="172.90" y2="444.04" stroke="#c43cf0" stroke-width="0.9"/>
<line x1="170.50" y1="451.01" x2="172.90" y2="451.01" stroke="#c43cf0" stroke-width="0.9"/>
<line x1="198.30" y1="439.16" x2="198.30" y2="444.97" stroke="#c43cf0" stroke-width="0.9"/>
<line x1="197.10" y1="439.16" x2="199.50" y2="439.16" stroke="#c43cf0" stroke-width="0.9"/>
<line x1="197.10" y1="444.97" x2="199.50" y2="444.97" stroke="#c43cf0" stroke-width="0.9"/>
<line x1="224.90" y1="443.11" x2="224.90" y2="450.08" stroke="#c43cf0" stroke-width="0.9"/>
<line x1="223.70" y1="443.11" x2="226.10" y2="443.11" stroke="#c43cf0" stroke-width="0.9"/>
<line x1="223.70" y1="450.08" x2="226.10" y2="450.08" stroke="#c43cf0" stroke-width="0.9"/>
<polyline points="65.30,475.88 91.90,465.42 118.50,454.96 145.10,447.53 171.70,447.53 198.30,442.07 224.90,446.60" fill="none" stroke="#c43cf0" stroke-width="1.1"/>
<circle cx="65.30" cy="475.88" r="1.3" fill="#c43cf0"/>
<circle cx="91.90" cy="465.42" r="1.3" fill="#c43cf0"/>
<circle cx="118.50" cy="454.96" r="1.3" fill="#c43cf0"/>
<circle cx="145.10" cy="447.53" r="1.3" fill="#c43cf0"/>
<circle cx="171.70" cy="447.53" r="1.3" fill="#c43cf0"/>
<circle cx="198.30" cy="442.07" r="1.3" fill="#c43cf0"/>
<circle cx="224.90" cy="446.60" r="1.3" fill="#c43cf0"/>
<line x1="65.30" y1="476.69" x2="65.30" y2="478.55" stroke="#ff1a1a" stroke-width="0.9"/>
<line x1="64.10" y1="476.69" x2="66.50" y2="476.69" stroke="#ff1a1a" stroke-width="0.9"/>
<line x1="64.10" y1="478.55" x2="66.50" y2="478.55" stroke="#ff1a1a" stroke-width="0.9"/>
<line x1="91.90" y1="468.91" x2="91.90" y2="472.39" stroke="#ff1a1a" stroke-width="0.9"/>
<line x1="90.70" y1="468.91" x2="93.10" y2="468.91" stroke="#ff1a1a" stroke-width="0.9"/>
<line x1="90.70" y1="472.39" x2="93.10" y2="472.39" stroke="#ff1a1a" stroke-width="0.9"/>
<line x1="118.50" y1="459.50" x2="118.50" y2="465.31" stroke="#ff1a1a" stroke-width="0.9"/>
<line x1="117.30" y1="459.50" x2="119.70" y2="459.50" stroke="#ff1a1a" stroke-width="0.9"/>
<line x1="117.30" y1="465.31" x2="119.70" y2="465.31" stroke="#ff1a1a" stroke-width="0.9"/>
<line x1="145.10" y1="458.10" x2="145.10" y2="461.59" stroke="#ff1a1a" stroke-width="0.9"/>
<line x1="143.90" y1="458.10" x2="146.30" y2="458.10" stroke="#ff1a1a" stroke-width="0.9"/>
<line x1="143.90" y1="461.59" x2="146.30" y2="461.59" stroke="#ff1a1a" stroke-width="0.9"/>
<line x1="171.70" y1="457.99" x2="171.70" y2="462.63" stroke="#ff1a1a" stroke-width="0.9"/>
<line x1="170.50" y1="457.99" x2="172.90" y2="457.99" stroke="#ff1a1a" stroke-width="0.9"/>
<line x1="170.50" y1="462.63" x2="172.90" y2="462.63" stroke="#ff1a1a" stroke-width="0.9"/>
<line x1="198.30" y1="452.87" x2="198.30" y2="457.52" stroke="#ff1a1a" stroke-width="0.9"/>
<line x1="197.10" y1="452.87" x2="199.50" y2="452.87" stroke="#ff1a1a" stroke-width="0.9"/>
<line x1="197.10" y1="457.52" x2="199.50" y2="457.52" stroke="#ff1a1a" stroke-width="0.9"/>
<line x1="224.90" y1="454.15" x2="224.90" y2="462.28" stroke="#ff1a1a" stroke-width="0.9"/>
<line x1="223.70" y1="454.15" x2="226.10" y2="454.15" stroke="#ff1a1a" stroke-width="0.9"/>
<line x1="223.70" y1="462.28" x2="226.10" y2="462.28" stroke="#ff1a1a" stroke-width="0.9"/>
<polyline points="65.30,477.62 91.90,470.65 118.50,462.40 145.10,459.84 171.70,460.31 198.30,455.20 224.90,458.22" fill="none" stroke="#ff1a1a" stroke-width="1.1"/>
<circle cx="65.30" cy="477.62" r="2.0" fill="#ff1a1a"/>
<circle cx="91.90" cy="470.65" r="2.0" fill="#ff1a1a"/>
<circle cx="118.50" cy="462.40" r="2.0" fill="#ff1a1a"/>
<circle cx="145.10" cy="459.84" r="2.0" fill="#ff1a1a"/>
<circle cx="171.70" cy="460.31" r="2.0" fill="#ff1a1a"/>
<circle cx="198.30" cy="455.20" r="2.0" fill="#ff1a1a"/>
<circle cx="224.90" cy="458.22" r="2.0" fill="#ff1a1a"/>
<line x1="65.30" y1="475.53" x2="65.30" y2="477.86" stroke="#e05535" stroke-width="0.9"/>
<line x1="64.10" y1="475.53" x2="66.50" y2="475.53" stroke="#e05535" stroke-width="0.9"/>
<line x1="64.10" y1="477.86" x2="66.50" y2="477.86" stroke="#e05535" stroke-width="0.9"/>
<line x1="91.90" y1="462.52" x2="91.90" y2="469.49" stroke="#e05535" stroke-width="0.9"/>
<line x1="90.70" y1="462.52" x2="93.10" y2="462.52" stroke="#e05535" stroke-width="0.9"/>
<line x1="90.70" y1="469.49" x2="93.10" y2="469.49" stroke="#e05535" stroke-width="0.9"/>
<line x1="118.50" y1="449.15" x2="118.50" y2="456.13" stroke="#e05535" stroke-width="0.9"/>
<line x1="117.30" y1="449.15" x2="119.70" y2="449.15" stroke="#e05535" stroke-width="0.9"/>
<line x1="117.30" y1="456.13" x2="119.70" y2="456.13" stroke="#e05535" stroke-width="0.9"/>
<line x1="145.10" y1="436.72" x2="145.10" y2="446.02" stroke="#e05535" stroke-width="0.9"/>
<line x1="143.90" y1="436.72" x2="146.30" y2="436.72" stroke="#e05535" stroke-width="0.9"/>
<line x1="143.90" y1="446.02" x2="146.30" y2="446.02" stroke="#e05535" stroke-width="0.9"/>
<line x1="171.70" y1="421.50" x2="171.70" y2="435.44" stroke="#e05535" stroke-width="0.9"/>
<line x1="170.50" y1="421.50" x2="172.90" y2="421.50" stroke="#e05535" stroke-width="0.9"/>
<line x1="170.50" y1="435.44" x2="172.90" y2="435.44" stroke="#e05535" stroke-width="0.9"/>
<line x1="198.30" y1="401.86" x2="198.30" y2="422.78" stroke="#e05535" stroke-width="0.9"/>
<line x1="197.10" y1="401.86" x2="199.50" y2="401.86" stroke="#e05535" stroke-width="0.9"/>
<line x1="197.10" y1="422.78" x2="199.50" y2="422.78" stroke="#e05535" stroke-width="0.9"/>
<line x1="224.90" y1="393.73" x2="224.90" y2="416.97" stroke="#e05535" stroke-width="0.9"/>
<line x1="223.70" y1="393.73" x2="226.10" y2="393.73" stroke="#e05535" stroke-width="0.9"/>
<line x1="223.70" y1="416.97" x2="226.10" y2="416.97" stroke="#e05535" stroke-width="0.9"/>
<polyline points="65.30,476.69 91.90,466.00 118.50,452.64 145.10,441.37 171.70,428.47 198.30,412.32 224.90,405.35" fill="none" stroke="#e05535" stroke-width="1.1"/>
<circle cx="65.30" cy="476.69" r="1.3" fill="#e05535"/>
<circle cx="91.90" cy="466.00" r="1.3" fill="#e05535"/>
<circle cx="118.50" cy="452.64" r="1.3" fill="#e05535"/>
<circle cx="145.10" cy="441.37" r="1.3" fill="#e05535"/>
<circle cx="171.70" cy="428.47" r="1.3" fill="#e05535"/>
<circle cx="198.30" cy="412.32" r="1.3" fill="#e05535"/>
<circle cx="224.90" cy="405.35" r="1.3" fill="#e05535"/>
<line x1="65.30" y1="476.46" x2="65.30" y2="478.79" stroke="#0a0aff" stroke-width="0.9"/>
<line x1="64.10" y1="476.46" x2="66.50" y2="476.46" stroke="#0a0aff" stroke-width="0.9"/>
<line x1="64.10" y1="478.79" x2="66.50" y2="478.79" stroke="#0a0aff" stroke-width="0.9"/>
<line x1="91.90" y1="467.75" x2="91.90" y2="472.39" stroke="#0a0aff" stroke-width="0.9"/>
<line x1="90.70" y1="467.75" x2="93.10" y2="467.75" stroke="#0a0aff" stroke-width="0.9"/>
<line x1="90.70" y1="472.39" x2="93.10" y2="472.39" stroke="#0a0aff" stroke-width="0.9"/>
<line x1="118.50" y1="447.53" x2="118.50" y2="460.31" stroke="#0a0aff" stroke-width="0.9"/>
<line x1="117.30" y1="447.53" x2="119.70" y2="447.53" stroke="#0a0aff" stroke-width="0.9"/>
<line x1="117.30" y1="460.31" x2="119.70" y2="460.31" stroke="#0a0aff" stroke-width="0.9"/>
<line x1="145.10" y1="439.39" x2="145.10" y2="451.01" stroke="#0a0aff" stroke-width="0.9"/>
<line x1="143.90" y1="439.39" x2="146.30" y2="439.39" stroke="#0a0aff" stroke-width="0.9"/>
<line x1="143.90" y1="451.01" x2="146.30" y2="451.01" stroke="#0a0aff" stroke-width="0.9"/>
<line x1="171.70" y1="419.17" x2="171.70" y2="433.12" stroke="#0a0aff" stroke-width="0.9"/>
<line x1="170.50" y1="419.17" x2="172.90" y2="419.17" stroke="#0a0aff" stroke-width="0.9"/>
<line x1="170.50" y1="433.12" x2="172.90" y2="433.12" stroke="#0a0aff" stroke-width="0.9"/>
<line x1="198.30" y1="403.72" x2="198.30" y2="424.64" stroke="#0a0aff" stroke-width="0.9"/>
<line x1="197.10" y1="403.72" x2="199.50" y2="403.72" stroke="#0a0aff" stroke-width="0.9"/>
<line x1="197.10" y1="424.64" x2="199.50" y2="424.64" stroke="#0a0aff" stroke-width="0.9"/>
<line x1="224.90" y1="397.68" x2="224.90" y2="420.92" stroke="#0a0aff" stroke-width="0.9"/>
<line x1="223.70" y1="397.68" x2="226.10" y2="397.68" stroke="#0a0aff" stroke-width="0.9"/>
<line x1="223.70" y1="420.92" x2="226.10" y2="420.92" stroke="#0a0aff" stroke-width="0.9"/>
<polyline points="65.30,477.62 91.90,470.07 118.50,453.92 145.10,445.20 171.70,426.15 198.30,414.18 224.90,409.30" fill="none" stroke="#0a0aff" stroke-width="1.1"/>
<rect x="63.55" y="475.87" width="3.5" height="3.5" fill="#0a0aff"/>
<rect x="90.15" y="468.32" width="3.5" height="3.5" fill="#0a0aff"/>
<rect x="116.75" y="452.17" width="3.5" height="3.5" fill="#0a0aff"/>
<rect x="143.35" y="443.45" width="3.5" height="3.5" fill="#0a0aff"/>
<rect x="169.95" y="424.40" width="3.5" height="3.5" fill="#0a0aff"/>
<rect x="196.55" y="412.43" width="3.5" height="3.5" fill="#0a0aff"/>
<rect x="223.15" y="407.55" width="3.5" height="3.5" fill="#0a0aff"/>
<line x1="65.30" y1="475.88" x2="65.30" y2="478.20" stroke="#555555" stroke-width="0.9"/>
<line x1="64.10" y1="475.88" x2="66.50" y2="475.88" stroke="#555555" stroke-width="0.9"/>
<line x1="64.10" y1="478.20" x2="66.50" y2="478.20" stroke="#555555" stroke-width="0.9"/>
<line x1="91.90" y1="459.38" x2="91.90" y2="467.51" stroke="#555555" stroke-width="0.9"/>
<line x1="90.70" y1="459.38" x2="93.10" y2="459.38" stroke="#555555" stroke-width="0.9"/>
<line x1="90.70" y1="467.51" x2="93.10" y2="467.51" stroke="#555555" stroke-width="0.9"/>
<line x1="118.50" y1="446.71" x2="118.50" y2="453.69" stroke="#555555" stroke-width="0.9"/>
<line x1="117.30" y1="446.71" x2="119.70" y2="446.71" stroke="#555555" stroke-width="0.9"/>
<line x1="117.30" y1="453.69" x2="119.70" y2="453.69" stroke="#555555" stroke-width="0.9"/>
<line x1="145.10" y1="431.96" x2="145.10" y2="443.58" stroke="#555555" stroke-width="0.9"/>
<line x1="143.90" y1="431.96" x2="146.30" y2="431.96" stroke="#555555" stroke-width="0.9"/>
<line x1="143.90" y1="443.58" x2="146.30" y2="443.58" stroke="#555555" stroke-width="0.9"/>
<line x1="171.70" y1="410.69" x2="171.70" y2="431.61" stroke="#555555" stroke-width="0.9"/>
<line x1="170.50" y1="410.69" x2="172.90" y2="410.69" stroke="#555555" stroke-width="0.9"/>
<line x1="170.50" y1="431.61" x2="172.90" y2="431.61" stroke="#555555" stroke-width="0.9"/>
<line x1="198.30" y1="397.21" x2="198.30" y2="420.45" stroke="#555555" stroke-width="0.9"/>
<line x1="197.10" y1="397.21" x2="199.50" y2="397.21" stroke="#555555" stroke-width="0.9"/>
<line x1="197.10" y1="420.45" x2="199.50" y2="420.45" stroke="#555555" stroke-width="0.9"/>
<line x1="224.90" y1="382.57" x2="224.90" y2="419.17" stroke="#555555" stroke-width="0.9"/>
<line x1="223.70" y1="382.57" x2="226.10" y2="382.57" stroke="#555555" stroke-width="0.9"/>
<line x1="223.70" y1="419.17" x2="226.10" y2="419.17" stroke="#555555" stroke-width="0.9"/>
<polyline points="65.30,477.04 91.90,463.45 118.50,450.20 145.10,437.77 171.70,421.15 198.30,408.83 224.90,401.16" fill="none" stroke="#555555" stroke-width="1.1"/>
<circle cx="65.30" cy="477.04" r="1.7" fill="#555555"/>
<circle cx="91.90" cy="463.45" r="1.7" fill="#555555"/>
<circle cx="118.50" cy="450.20" r="1.7" fill="#555555"/>
<circle cx="145.10" cy="437.77" r="1.7" fill="#555555"/>
<circle cx="171.70" cy="421.15" r="1.7" fill="#555555"/>
<circle cx="198.30" cy="408.83" r="1.7" fill="#555555"/>
<circle cx="224.90" cy="401.16" r="1.7" fill="#555555"/>
<line x1="65.30" y1="370.80" x2="65.30" y2="488.10" stroke="#555" stroke-width="1.2"/>
<line x1="64.70" y1="487.50" x2="225.50" y2="487.50" stroke="#555" stroke-width="1.2"/>
<line x1="62.20" y1="487.50" x2="65.30" y2="487.50" stroke="#555" stroke-width="1"/>
<text x="58.90" y="490.50" font-size="8.6" text-anchor="end" font-weight="normal" fill="#231f20" >0</text>
<line x1="62.20" y1="464.26" x2="65.30" y2="464.26" stroke="#555" stroke-width="1"/>
<text x="58.90" y="467.26" font-size="8.6" text-anchor="end" font-weight="normal" fill="#231f20" >200</text>
<line x1="62.20" y1="441.02" x2="65.30" y2="441.02" stroke="#555" stroke-width="1"/>
<text x="58.90" y="444.02" font-size="8.6" text-anchor="end" font-weight="normal" fill="#231f20" >400</text>
<line x1="62.20" y1="417.78" x2="65.30" y2="417.78" stroke="#555" stroke-width="1"/>
<text x="58.90" y="420.78" font-size="8.6" text-anchor="end" font-weight="normal" fill="#231f20" >600</text>
<line x1="62.20" y1="394.54" x2="65.30" y2="394.54" stroke="#555" stroke-width="1"/>
<text x="58.90" y="397.54" font-size="8.6" text-anchor="end" font-weight="normal" fill="#231f20" >800</text>
<line x1="62.20" y1="371.30" x2="65.30" y2="371.30" stroke="#555" stroke-width="1"/>
<text x="58.90" y="374.30" font-size="8.6" text-anchor="end" font-weight="normal" fill="#231f20" >1000</text>
<line x1="65.30" y1="487.50" x2="65.30" y2="490.00" stroke="#555" stroke-width="1"/>
<text x="65.30" y="499.90" font-size="8.6" text-anchor="middle" font-weight="normal" fill="#231f20" >0</text>
<line x1="91.90" y1="487.50" x2="91.90" y2="490.00" stroke="#555" stroke-width="1"/>
<text x="91.90" y="499.90" font-size="8.6" text-anchor="middle" font-weight="normal" fill="#231f20" >2</text>
<line x1="118.50" y1="487.50" x2="118.50" y2="490.00" stroke="#555" stroke-width="1"/>
<text x="118.50" y="499.90" font-size="8.6" text-anchor="middle" font-weight="normal" fill="#231f20" >4</text>
<line x1="145.10" y1="487.50" x2="145.10" y2="490.00" stroke="#555" stroke-width="1"/>
<text x="145.10" y="499.90" font-size="8.6" text-anchor="middle" font-weight="normal" fill="#231f20" >6</text>
<line x1="171.70" y1="487.50" x2="171.70" y2="490.00" stroke="#555" stroke-width="1"/>
<text x="171.70" y="499.90" font-size="8.6" text-anchor="middle" font-weight="normal" fill="#231f20" >8</text>
<line x1="198.30" y1="487.50" x2="198.30" y2="490.00" stroke="#555" stroke-width="1"/>
<text x="198.30" y="499.90" font-size="8.6" text-anchor="middle" font-weight="normal" fill="#231f20" >10</text>
<line x1="224.90" y1="487.50" x2="224.90" y2="490.00" stroke="#555" stroke-width="1"/>
<text x="224.90" y="499.90" font-size="8.6" text-anchor="middle" font-weight="normal" fill="#231f20" >12</text>
<text x="145.20" y="514.80" font-size="8.9" text-anchor="middle" font-weight="normal" fill="#231f20" >Time (Day)</text>
<text transform="translate(41.0,433.3) rotate(-90)" font-size="9" text-anchor="middle" fill="#231f20">Tumor volume (mm<tspan font-size="5.5" dy="-3">3</tspan><tspan dy="3">)</tspan></text>
<line x1="75.20" y1="376.60" x2="86.80" y2="376.60" stroke="#555555" stroke-width="1.1"/>
<circle cx="81.00" cy="376.60" r="1.7" fill="#555555"/>
<text x="93.00" y="379.70" font-size="8.9" text-anchor="start" font-weight="normal" fill="#231f20" >G1: Control</text>
<line x1="75.20" y1="387.50" x2="86.80" y2="387.50" stroke="#0a0aff" stroke-width="1.1"/>
<rect x="79.25" y="385.75" width="3.5" height="3.5" fill="#0a0aff"/>
<text x="93.00" y="390.60" font-size="8.9" text-anchor="start" font-weight="normal" fill="#231f20" >G2: <tspan font-weight="bold">1</tspan></text>
<line x1="75.20" y1="399.40" x2="86.80" y2="399.40" stroke="#e05535" stroke-width="1.1"/>
<circle cx="81.00" cy="399.40" r="1.3" fill="#e05535"/>
<text x="93.00" y="402.50" font-size="8.9" text-anchor="start" font-weight="normal" fill="#231f20" >G3: <tspan font-weight="bold">8</tspan></text>
<line x1="75.20" y1="412.90" x2="86.80" y2="412.90" stroke="#ff1a1a" stroke-width="1.1"/>
<circle cx="81.00" cy="412.90" r="2.0" fill="#ff1a1a"/>
<text x="93.00" y="416.00" font-size="8.9" text-anchor="start" font-weight="normal" fill="#231f20" >G4: Dox</text>
<line x1="75.20" y1="425.90" x2="86.80" y2="425.90" stroke="#c43cf0" stroke-width="1.1"/>
<circle cx="81.00" cy="425.90" r="1.3" fill="#c43cf0"/>
<text x="93.00" y="429.00" font-size="8.9" text-anchor="start" font-weight="normal" fill="#231f20" >G5: <tspan font-weight="bold">1+8</tspan></text>
<line x1="244.90" y1="399.70" x2="244.90" y2="461.50" stroke="#777" stroke-width="0.9"/>
<text transform="translate(253.6,431) rotate(-90)" font-size="8.5" text-anchor="middle" fill="#231f20">****</text>
<line x1="229.20" y1="446.00" x2="229.20" y2="461.50" stroke="#333" stroke-width="0.8"/>
<text transform="translate(238.2,455) rotate(-90)" font-size="7.3" text-anchor="middle" fill="#231f20"><tspan font-style="italic">P</tspan> = 0.485</text>
<text x="286.80" y="362.50" font-size="9" text-anchor="start" font-weight="bold" fill="#000" >e</text>
<line x1="329.50" y1="399.09" x2="329.50" y2="400.64" stroke="#c43cf0" stroke-width="0.9"/>
<line x1="328.30" y1="399.09" x2="330.70" y2="399.09" stroke="#c43cf0" stroke-width="0.9"/>
<line x1="328.30" y1="400.64" x2="330.70" y2="400.64" stroke="#c43cf0" stroke-width="0.9"/>
<line x1="356.10" y1="401.42" x2="356.10" y2="402.98" stroke="#c43cf0" stroke-width="0.9"/>
<line x1="354.90" y1="401.42" x2="357.30" y2="401.42" stroke="#c43cf0" stroke-width="0.9"/>
<line x1="354.90" y1="402.98" x2="357.30" y2="402.98" stroke="#c43cf0" stroke-width="0.9"/>
<line x1="382.70" y1="404.14" x2="382.70" y2="405.70" stroke="#c43cf0" stroke-width="0.9"/>
<line x1="381.50" y1="404.14" x2="383.90" y2="404.14" stroke="#c43cf0" stroke-width="0.9"/>
<line x1="381.50" y1="405.70" x2="383.90" y2="405.70" stroke="#c43cf0" stroke-width="0.9"/>
<line x1="409.30" y1="410.37" x2="409.30" y2="411.92" stroke="#c43cf0" stroke-width="0.9"/>
<line x1="408.10" y1="410.37" x2="410.50" y2="410.37" stroke="#c43cf0" stroke-width="0.9"/>
<line x1="408.10" y1="411.92" x2="410.50" y2="411.92" stroke="#c43cf0" stroke-width="0.9"/>
<line x1="435.90" y1="408.42" x2="435.90" y2="409.98" stroke="#c43cf0" stroke-width="0.9"/>
<line x1="434.70" y1="408.42" x2="437.10" y2="408.42" stroke="#c43cf0" stroke-width="0.9"/>
<line x1="434.70" y1="409.98" x2="437.10" y2="409.98" stroke="#c43cf0" stroke-width="0.9"/>
<line x1="462.50" y1="405.70" x2="462.50" y2="407.25" stroke="#c43cf0" stroke-width="0.9"/>
<line x1="461.30" y1="405.70" x2="463.70" y2="405.70" stroke="#c43cf0" stroke-width="0.9"/>
<line x1="461.30" y1="407.25" x2="463.70" y2="407.25" stroke="#c43cf0" stroke-width="0.9"/>
<line x1="489.10" y1="402.20" x2="489.10" y2="403.75" stroke="#c43cf0" stroke-width="0.9"/>
<line x1="487.90" y1="402.20" x2="490.30" y2="402.20" stroke="#c43cf0" stroke-width="0.9"/>
<line x1="487.90" y1="403.75" x2="490.30" y2="403.75" stroke="#c43cf0" stroke-width="0.9"/>
<polyline points="329.50,399.86 356.10,402.20 382.70,404.92 409.30,411.14 435.90,409.20 462.50,406.48 489.10,402.98" fill="none" stroke="#c43cf0" stroke-width="1.1"/>
<circle cx="329.50" cy="399.86" r="1.3" fill="#c43cf0"/>
<circle cx="356.10" cy="402.20" r="1.3" fill="#c43cf0"/>
<circle cx="382.70" cy="404.92" r="1.3" fill="#c43cf0"/>
<circle cx="409.30" cy="411.14" r="1.3" fill="#c43cf0"/>
<circle cx="435.90" cy="409.20" r="1.3" fill="#c43cf0"/>
<circle cx="462.50" cy="406.48" r="1.3" fill="#c43cf0"/>
<circle cx="489.10" cy="402.98" r="1.3" fill="#c43cf0"/>
<line x1="329.50" y1="398.31" x2="329.50" y2="402.20" stroke="#ff1a1a" stroke-width="0.9"/>
<line x1="328.30" y1="398.31" x2="330.70" y2="398.31" stroke="#ff1a1a" stroke-width="0.9"/>
<line x1="328.30" y1="402.20" x2="330.70" y2="402.20" stroke="#ff1a1a" stroke-width="0.9"/>
<line x1="356.10" y1="400.64" x2="356.10" y2="402.98" stroke="#ff1a1a" stroke-width="0.9"/>
<line x1="354.90" y1="400.64" x2="357.30" y2="400.64" stroke="#ff1a1a" stroke-width="0.9"/>
<line x1="354.90" y1="402.98" x2="357.30" y2="402.98" stroke="#ff1a1a" stroke-width="0.9"/>
<line x1="382.70" y1="399.86" x2="382.70" y2="403.75" stroke="#ff1a1a" stroke-width="0.9"/>
<line x1="381.50" y1="399.86" x2="383.90" y2="399.86" stroke="#ff1a1a" stroke-width="0.9"/>
<line x1="381.50" y1="403.75" x2="383.90" y2="403.75" stroke="#ff1a1a" stroke-width="0.9"/>
<line x1="409.30" y1="399.48" x2="409.30" y2="406.48" stroke="#ff1a1a" stroke-width="0.9"/>
<line x1="408.10" y1="399.48" x2="410.50" y2="399.48" stroke="#ff1a1a" stroke-width="0.9"/>
<line x1="408.10" y1="406.48" x2="410.50" y2="406.48" stroke="#ff1a1a" stroke-width="0.9"/>
<line x1="435.90" y1="396.75" x2="435.90" y2="403.75" stroke="#ff1a1a" stroke-width="0.9"/>
<line x1="434.70" y1="396.75" x2="437.10" y2="396.75" stroke="#ff1a1a" stroke-width="0.9"/>
<line x1="434.70" y1="403.75" x2="437.10" y2="403.75" stroke="#ff1a1a" stroke-width="0.9"/>
<line x1="462.50" y1="396.75" x2="462.50" y2="403.75" stroke="#ff1a1a" stroke-width="0.9"/>
<line x1="461.30" y1="396.75" x2="463.70" y2="396.75" stroke="#ff1a1a" stroke-width="0.9"/>
<line x1="461.30" y1="403.75" x2="463.70" y2="403.75" stroke="#ff1a1a" stroke-width="0.9"/>
<line x1="489.10" y1="395.97" x2="489.10" y2="402.20" stroke="#ff1a1a" stroke-width="0.9"/>
<line x1="487.90" y1="395.97" x2="490.30" y2="395.97" stroke="#ff1a1a" stroke-width="0.9"/>
<line x1="487.90" y1="402.20" x2="490.30" y2="402.20" stroke="#ff1a1a" stroke-width="0.9"/>
<polyline points="329.50,400.25 356.10,401.81 382.70,401.81 409.30,402.98 435.90,400.25 462.50,400.25 489.10,399.09" fill="none" stroke="#ff1a1a" stroke-width="1.1"/>
<circle cx="329.50" cy="400.25" r="2.0" fill="#ff1a1a"/>
<circle cx="356.10" cy="401.81" r="2.0" fill="#ff1a1a"/>
<circle cx="382.70" cy="401.81" r="2.0" fill="#ff1a1a"/>
<circle cx="409.30" cy="402.98" r="2.0" fill="#ff1a1a"/>
<circle cx="435.90" cy="400.25" r="2.0" fill="#ff1a1a"/>
<circle cx="462.50" cy="400.25" r="2.0" fill="#ff1a1a"/>
<circle cx="489.10" cy="399.09" r="2.0" fill="#ff1a1a"/>
<line x1="329.50" y1="398.70" x2="329.50" y2="401.03" stroke="#e05535" stroke-width="0.9"/>
<line x1="328.30" y1="398.70" x2="330.70" y2="398.70" stroke="#e05535" stroke-width="0.9"/>
<line x1="328.30" y1="401.03" x2="330.70" y2="401.03" stroke="#e05535" stroke-width="0.9"/>
<line x1="356.10" y1="400.64" x2="356.10" y2="402.98" stroke="#e05535" stroke-width="0.9"/>
<line x1="354.90" y1="400.64" x2="357.30" y2="400.64" stroke="#e05535" stroke-width="0.9"/>
<line x1="354.90" y1="402.98" x2="357.30" y2="402.98" stroke="#e05535" stroke-width="0.9"/>
<line x1="382.70" y1="400.25" x2="382.70" y2="402.59" stroke="#e05535" stroke-width="0.9"/>
<line x1="381.50" y1="400.25" x2="383.90" y2="400.25" stroke="#e05535" stroke-width="0.9"/>
<line x1="381.50" y1="402.59" x2="383.90" y2="402.59" stroke="#e05535" stroke-width="0.9"/>
<line x1="409.30" y1="395.20" x2="409.30" y2="397.53" stroke="#e05535" stroke-width="0.9"/>
<line x1="408.10" y1="395.20" x2="410.50" y2="395.20" stroke="#e05535" stroke-width="0.9"/>
<line x1="408.10" y1="397.53" x2="410.50" y2="397.53" stroke="#e05535" stroke-width="0.9"/>
<line x1="435.90" y1="392.47" x2="435.90" y2="394.81" stroke="#e05535" stroke-width="0.9"/>
<line x1="434.70" y1="392.47" x2="437.10" y2="392.47" stroke="#e05535" stroke-width="0.9"/>
<line x1="434.70" y1="394.81" x2="437.10" y2="394.81" stroke="#e05535" stroke-width="0.9"/>
<line x1="462.50" y1="392.08" x2="462.50" y2="394.42" stroke="#e05535" stroke-width="0.9"/>
<line x1="461.30" y1="392.08" x2="463.70" y2="392.08" stroke="#e05535" stroke-width="0.9"/>
<line x1="461.30" y1="394.42" x2="463.70" y2="394.42" stroke="#e05535" stroke-width="0.9"/>
<line x1="489.10" y1="390.14" x2="489.10" y2="392.47" stroke="#e05535" stroke-width="0.9"/>
<line x1="487.90" y1="390.14" x2="490.30" y2="390.14" stroke="#e05535" stroke-width="0.9"/>
<line x1="487.90" y1="392.47" x2="490.30" y2="392.47" stroke="#e05535" stroke-width="0.9"/>
<polyline points="329.50,399.86 356.10,401.81 382.70,401.42 409.30,396.36 435.90,393.64 462.50,393.25 489.10,391.31" fill="none" stroke="#e05535" stroke-width="1.1"/>
<circle cx="329.50" cy="399.86" r="1.3" fill="#e05535"/>
<circle cx="356.10" cy="401.81" r="1.3" fill="#e05535"/>
<circle cx="382.70" cy="401.42" r="1.3" fill="#e05535"/>
<circle cx="409.30" cy="396.36" r="1.3" fill="#e05535"/>
<circle cx="435.90" cy="393.64" r="1.3" fill="#e05535"/>
<circle cx="462.50" cy="393.25" r="1.3" fill="#e05535"/>
<circle cx="489.10" cy="391.31" r="1.3" fill="#e05535"/>
<line x1="329.50" y1="397.53" x2="329.50" y2="399.86" stroke="#0a0aff" stroke-width="0.9"/>
<line x1="328.30" y1="397.53" x2="330.70" y2="397.53" stroke="#0a0aff" stroke-width="0.9"/>
<line x1="328.30" y1="399.86" x2="330.70" y2="399.86" stroke="#0a0aff" stroke-width="0.9"/>
<line x1="356.10" y1="398.31" x2="356.10" y2="400.64" stroke="#0a0aff" stroke-width="0.9"/>
<line x1="354.90" y1="398.31" x2="357.30" y2="398.31" stroke="#0a0aff" stroke-width="0.9"/>
<line x1="354.90" y1="400.64" x2="357.30" y2="400.64" stroke="#0a0aff" stroke-width="0.9"/>
<line x1="382.70" y1="397.14" x2="382.70" y2="399.48" stroke="#0a0aff" stroke-width="0.9"/>
<line x1="381.50" y1="397.14" x2="383.90" y2="397.14" stroke="#0a0aff" stroke-width="0.9"/>
<line x1="381.50" y1="399.48" x2="383.90" y2="399.48" stroke="#0a0aff" stroke-width="0.9"/>
<line x1="409.30" y1="393.25" x2="409.30" y2="395.58" stroke="#0a0aff" stroke-width="0.9"/>
<line x1="408.10" y1="393.25" x2="410.50" y2="393.25" stroke="#0a0aff" stroke-width="0.9"/>
<line x1="408.10" y1="395.58" x2="410.50" y2="395.58" stroke="#0a0aff" stroke-width="0.9"/>
<line x1="435.90" y1="390.14" x2="435.90" y2="392.47" stroke="#0a0aff" stroke-width="0.9"/>
<line x1="434.70" y1="390.14" x2="437.10" y2="390.14" stroke="#0a0aff" stroke-width="0.9"/>
<line x1="434.70" y1="392.47" x2="437.10" y2="392.47" stroke="#0a0aff" stroke-width="0.9"/>
<line x1="462.50" y1="391.31" x2="462.50" y2="393.64" stroke="#0a0aff" stroke-width="0.9"/>
<line x1="461.30" y1="391.31" x2="463.70" y2="391.31" stroke="#0a0aff" stroke-width="0.9"/>
<line x1="461.30" y1="393.64" x2="463.70" y2="393.64" stroke="#0a0aff" stroke-width="0.9"/>
<line x1="489.10" y1="388.19" x2="489.10" y2="390.53" stroke="#0a0aff" stroke-width="0.9"/>
<line x1="487.90" y1="388.19" x2="490.30" y2="388.19" stroke="#0a0aff" stroke-width="0.9"/>
<line x1="487.90" y1="390.53" x2="490.30" y2="390.53" stroke="#0a0aff" stroke-width="0.9"/>
<polyline points="329.50,398.70 356.10,399.48 382.70,398.31 409.30,394.42 435.90,391.31 462.50,392.47 489.10,389.36" fill="none" stroke="#0a0aff" stroke-width="1.1"/>
<rect x="327.75" y="396.95" width="3.5" height="3.5" fill="#0a0aff"/>
<rect x="354.35" y="397.73" width="3.5" height="3.5" fill="#0a0aff"/>
<rect x="380.95" y="396.56" width="3.5" height="3.5" fill="#0a0aff"/>
<rect x="407.55" y="392.67" width="3.5" height="3.5" fill="#0a0aff"/>
<rect x="434.15" y="389.56" width="3.5" height="3.5" fill="#0a0aff"/>
<rect x="460.75" y="390.72" width="3.5" height="3.5" fill="#0a0aff"/>
<rect x="487.35" y="387.61" width="3.5" height="3.5" fill="#0a0aff"/>
<line x1="329.50" y1="399.86" x2="329.50" y2="402.20" stroke="#555555" stroke-width="0.9"/>
<line x1="328.30" y1="399.86" x2="330.70" y2="399.86" stroke="#555555" stroke-width="0.9"/>
<line x1="328.30" y1="402.20" x2="330.70" y2="402.20" stroke="#555555" stroke-width="0.9"/>
<line x1="356.10" y1="401.03" x2="356.10" y2="403.37" stroke="#555555" stroke-width="0.9"/>
<line x1="354.90" y1="401.03" x2="357.30" y2="401.03" stroke="#555555" stroke-width="0.9"/>
<line x1="354.90" y1="403.37" x2="357.30" y2="403.37" stroke="#555555" stroke-width="0.9"/>
<line x1="382.70" y1="399.86" x2="382.70" y2="402.20" stroke="#555555" stroke-width="0.9"/>
<line x1="381.50" y1="399.86" x2="383.90" y2="399.86" stroke="#555555" stroke-width="0.9"/>
<line x1="381.50" y1="402.20" x2="383.90" y2="402.20" stroke="#555555" stroke-width="0.9"/>
<line x1="409.30" y1="396.75" x2="409.30" y2="399.09" stroke="#555555" stroke-width="0.9"/>
<line x1="408.10" y1="396.75" x2="410.50" y2="396.75" stroke="#555555" stroke-width="0.9"/>
<line x1="408.10" y1="399.09" x2="410.50" y2="399.09" stroke="#555555" stroke-width="0.9"/>
<line x1="435.90" y1="393.64" x2="435.90" y2="395.97" stroke="#555555" stroke-width="0.9"/>
<line x1="434.70" y1="393.64" x2="437.10" y2="393.64" stroke="#555555" stroke-width="0.9"/>
<line x1="434.70" y1="395.97" x2="437.10" y2="395.97" stroke="#555555" stroke-width="0.9"/>
<line x1="462.50" y1="393.25" x2="462.50" y2="395.58" stroke="#555555" stroke-width="0.9"/>
<line x1="461.30" y1="393.25" x2="463.70" y2="393.25" stroke="#555555" stroke-width="0.9"/>
<line x1="461.30" y1="395.58" x2="463.70" y2="395.58" stroke="#555555" stroke-width="0.9"/>
<line x1="489.10" y1="392.08" x2="489.10" y2="394.42" stroke="#555555" stroke-width="0.9"/>
<line x1="487.90" y1="392.08" x2="490.30" y2="392.08" stroke="#555555" stroke-width="0.9"/>
<line x1="487.90" y1="394.42" x2="490.30" y2="394.42" stroke="#555555" stroke-width="0.9"/>
<polyline points="329.50,401.03 356.10,402.20 382.70,401.03 409.30,397.92 435.90,394.81 462.50,394.42 489.10,393.25" fill="none" stroke="#555555" stroke-width="1.1"/>
<circle cx="329.50" cy="401.03" r="1.7" fill="#555555"/>
<circle cx="356.10" cy="402.20" r="1.7" fill="#555555"/>
<circle cx="382.70" cy="401.03" r="1.7" fill="#555555"/>
<circle cx="409.30" cy="397.92" r="1.7" fill="#555555"/>
<circle cx="435.90" cy="394.81" r="1.7" fill="#555555"/>
<circle cx="462.50" cy="394.42" r="1.7" fill="#555555"/>
<circle cx="489.10" cy="393.25" r="1.7" fill="#555555"/>
<line x1="329.50" y1="369.80" x2="329.50" y2="487.60" stroke="#555" stroke-width="1.2"/>
<line x1="328.90" y1="487.00" x2="489.60" y2="487.00" stroke="#555" stroke-width="1.2"/>
<line x1="326.40" y1="487.00" x2="329.50" y2="487.00" stroke="#555" stroke-width="1"/>
<text x="323.30" y="490.00" font-size="8.6" text-anchor="end" font-weight="normal" fill="#231f20" >0</text>
<line x1="326.40" y1="448.10" x2="329.50" y2="448.10" stroke="#555" stroke-width="1"/>
<text x="323.30" y="451.10" font-size="8.6" text-anchor="end" font-weight="normal" fill="#231f20" >10</text>
<line x1="326.40" y1="409.20" x2="329.50" y2="409.20" stroke="#555" stroke-width="1"/>
<text x="323.30" y="412.20" font-size="8.6" text-anchor="end" font-weight="normal" fill="#231f20" >20</text>
<line x1="326.40" y1="370.30" x2="329.50" y2="370.30" stroke="#555" stroke-width="1"/>
<text x="323.30" y="373.30" font-size="8.6" text-anchor="end" font-weight="normal" fill="#231f20" >30</text>
<line x1="329.50" y1="487.00" x2="329.50" y2="489.50" stroke="#555" stroke-width="1"/>
<text x="329.50" y="499.80" font-size="8.6" text-anchor="middle" font-weight="normal" fill="#231f20" >0</text>
<line x1="356.10" y1="487.00" x2="356.10" y2="489.50" stroke="#555" stroke-width="1"/>
<text x="356.10" y="499.80" font-size="8.6" text-anchor="middle" font-weight="normal" fill="#231f20" >2</text>
<line x1="382.70" y1="487.00" x2="382.70" y2="489.50" stroke="#555" stroke-width="1"/>
<text x="382.70" y="499.80" font-size="8.6" text-anchor="middle" font-weight="normal" fill="#231f20" >4</text>
<line x1="409.30" y1="487.00" x2="409.30" y2="489.50" stroke="#555" stroke-width="1"/>
<text x="409.30" y="499.80" font-size="8.6" text-anchor="middle" font-weight="normal" fill="#231f20" >6</text>
<line x1="435.90" y1="487.00" x2="435.90" y2="489.50" stroke="#555" stroke-width="1"/>
<text x="435.90" y="499.80" font-size="8.6" text-anchor="middle" font-weight="normal" fill="#231f20" >8</text>
<line x1="462.50" y1="487.00" x2="462.50" y2="489.50" stroke="#555" stroke-width="1"/>
<text x="462.50" y="499.80" font-size="8.6" text-anchor="middle" font-weight="normal" fill="#231f20" >10</text>
<line x1="489.10" y1="487.00" x2="489.10" y2="489.50" stroke="#555" stroke-width="1"/>
<text x="489.10" y="499.80" font-size="8.6" text-anchor="middle" font-weight="normal" fill="#231f20" >12</text>
<text x="409.00" y="515.00" font-size="8.9" text-anchor="middle" font-weight="normal" fill="#231f20" >Time (Day)</text>
<text transform="translate(306.6,432.2) rotate(-90)" font-size="8.7" text-anchor="middle" fill="#231f20">Body weight (g)</text>
<line x1="336.50" y1="420.70" x2="346.60" y2="420.70" stroke="#555555" stroke-width="1.1"/>
<circle cx="341.50" cy="420.70" r="1.7" fill="#555555"/>
<text x="351.20" y="423.80" font-size="8.7" text-anchor="start" font-weight="normal" fill="#231f20" >G1: Control</text>
<line x1="336.50" y1="434.60" x2="346.60" y2="434.60" stroke="#0a0aff" stroke-width="1.1"/>
<rect x="339.75" y="432.85" width="3.5" height="3.5" fill="#0a0aff"/>
<text x="351.20" y="437.70" font-size="8.7" text-anchor="start" font-weight="normal" fill="#231f20" >G2: <tspan font-weight="bold">1</tspan></text>
<line x1="336.50" y1="449.20" x2="346.60" y2="449.20" stroke="#e05535" stroke-width="1.1"/>
<circle cx="341.50" cy="449.20" r="1.3" fill="#e05535"/>
<text x="351.20" y="452.30" font-size="8.7" text-anchor="start" font-weight="normal" fill="#231f20" >G3: <tspan font-weight="bold">8</tspan></text>
<line x1="336.50" y1="463.10" x2="346.60" y2="463.10" stroke="#ff1a1a" stroke-width="1.1"/>
<circle cx="341.50" cy="463.10" r="2.0" fill="#ff1a1a"/>
<text x="351.20" y="466.20" font-size="8.7" text-anchor="start" font-weight="normal" fill="#231f20" >G4: Dox</text>
<line x1="336.50" y1="477.40" x2="346.60" y2="477.40" stroke="#c43cf0" stroke-width="1.1"/>
<circle cx="341.50" cy="477.40" r="1.3" fill="#c43cf0"/>
<text x="351.20" y="480.50" font-size="8.7" text-anchor="start" font-weight="normal" fill="#231f20" >G5: <tspan font-weight="bold">1+8</tspan></text>
<text x="514.00" y="362.30" font-size="9" text-anchor="start" font-weight="bold" fill="#000" >f</text>
<defs><linearGradient id="pbg" x1="0" y1="0" x2="0" y2="1"><stop offset="0" stop-color="#fdfdfd"/><stop offset="0.3" stop-color="#f8f8f9"/><stop offset="1" stop-color="#f1f1f3"/></linearGradient></defs>
<rect x="541" y="370" width="138.5" height="140" fill="url(#pbg)"/>
<text x="530.30" y="390.30" font-size="8.2" text-anchor="start" font-weight="normal" fill="#231f20" >G1</text>
<text x="530.30" y="422.10" font-size="8.2" text-anchor="start" font-weight="normal" fill="#231f20" >G2</text>
<text x="530.30" y="449.30" font-size="8.2" text-anchor="start" font-weight="normal" fill="#231f20" >G3</text>
<text x="530.30" y="478.20" font-size="8.2" text-anchor="start" font-weight="normal" fill="#231f20" >G4</text>
<text x="530.30" y="505.10" font-size="8.2" text-anchor="start" font-weight="normal" fill="#231f20" >G5</text>
<path d="M560.01,387.60 C560.08,388.50 559.98,389.73 559.34,390.45 C558.71,391.17 557.28,391.80 556.20,391.91 C555.13,392.02 553.83,391.57 552.90,391.09 C551.96,390.62 550.98,389.86 550.60,389.04 C550.23,388.22 550.28,387.04 550.64,386.18 C551.00,385.31 551.81,384.36 552.74,383.87 C553.67,383.39 555.18,383.07 556.21,383.27 C557.23,383.47 558.25,384.35 558.88,385.08 C559.51,385.80 559.93,386.70 560.01,387.60 Z" fill="#b97f6a"/>
<path d="M558.75,387.30 C558.83,387.98 558.27,389.12 557.65,389.52 C557.02,389.92 555.78,389.79 555.00,389.70 C554.22,389.62 553.56,389.42 552.96,389.02 C552.35,388.62 551.44,387.94 551.37,387.30 C551.29,386.66 551.90,385.69 552.50,385.20 C553.11,384.72 554.22,384.34 555.00,384.39 C555.78,384.43 556.57,384.97 557.20,385.45 C557.82,385.94 558.68,386.62 558.75,387.30 Z" fill="#cea090" opacity="0.75"/>
<path d="M584.34,382.78 C584.88,383.62 585.22,384.75 584.97,385.87 C584.72,387.00 583.84,388.44 582.83,389.53 C581.81,390.63 580.18,392.01 578.88,392.43 C577.57,392.86 576.00,392.54 574.99,392.09 C573.98,391.63 572.94,390.74 572.83,389.71 C572.72,388.67 573.57,387.08 574.32,385.88 C575.08,384.67 576.13,383.31 577.37,382.48 C578.60,381.64 580.57,380.81 581.74,380.86 C582.90,380.91 583.80,381.95 584.34,382.78 Z" fill="#b97f6a"/>
<path d="M582.73,383.50 C583.25,384.00 583.45,385.25 583.13,386.15 C582.80,387.05 581.69,388.23 580.78,388.91 C579.87,389.58 578.54,390.16 577.64,390.22 C576.74,390.27 575.91,389.81 575.38,389.25 C574.84,388.70 574.13,387.70 574.42,386.87 C574.72,386.03 576.22,384.87 577.15,384.26 C578.08,383.65 579.09,383.31 580.02,383.19 C580.95,383.06 582.22,383.01 582.73,383.50 Z" fill="#cea090" opacity="0.75"/>
<path d="M610.86,386.64 C610.61,387.48 609.60,388.25 608.60,388.72 C607.60,389.18 606.09,389.65 604.86,389.43 C603.63,389.22 602.06,388.23 601.21,387.41 C600.36,386.58 599.95,385.46 599.77,384.48 C599.58,383.50 599.46,382.17 600.10,381.53 C600.74,380.89 602.40,380.68 603.61,380.63 C604.83,380.59 606.31,380.76 607.39,381.27 C608.47,381.78 609.49,382.78 610.07,383.67 C610.65,384.57 611.10,385.80 610.86,386.64 Z" fill="#b97f6a"/>
<path d="M608.47,385.66 C608.29,386.37 608.00,387.36 607.24,387.68 C606.48,387.99 604.91,387.90 603.90,387.57 C602.90,387.24 601.72,386.41 601.20,385.67 C600.69,384.94 600.57,383.88 600.81,383.17 C601.04,382.46 601.82,381.57 602.63,381.41 C603.43,381.25 604.70,381.87 605.65,382.21 C606.59,382.54 607.84,382.84 608.31,383.42 C608.78,383.99 608.65,384.95 608.47,385.66 Z" fill="#cea090" opacity="0.75"/>
<path d="M638.35,384.50 C638.26,385.87 637.42,387.35 636.54,388.37 C635.65,389.38 634.33,390.31 633.06,390.58 C631.78,390.85 629.97,390.66 628.88,389.98 C627.80,389.30 627.00,387.80 626.54,386.52 C626.07,385.24 625.73,383.64 626.08,382.31 C626.43,380.98 627.46,379.23 628.62,378.56 C629.79,377.88 631.67,378.00 633.08,378.27 C634.49,378.54 636.21,379.13 637.08,380.17 C637.96,381.20 638.44,383.13 638.35,384.50 Z" fill="#b97f6a"/>
<path d="M636.00,384.20 C636.03,385.29 635.70,386.84 634.98,387.54 C634.27,388.23 632.77,388.40 631.70,388.37 C630.63,388.34 629.36,388.07 628.57,387.38 C627.79,386.68 626.97,385.23 627.00,384.20 C627.02,383.17 627.96,381.95 628.74,381.19 C629.53,380.44 630.68,379.71 631.70,379.68 C632.72,379.65 634.12,380.26 634.84,381.01 C635.56,381.76 635.98,383.11 636.00,384.20 Z" fill="#cea090" opacity="0.75"/>
<path d="M666.87,386.50 C666.91,387.79 665.50,389.33 664.42,390.43 C663.33,391.53 661.85,392.87 660.35,393.11 C658.85,393.35 656.85,392.59 655.42,391.87 C653.99,391.14 652.32,390.02 651.78,388.77 C651.25,387.52 651.64,385.68 652.21,384.36 C652.79,383.04 653.89,381.58 655.24,380.86 C656.59,380.15 658.81,379.77 660.31,380.08 C661.81,380.39 663.12,381.64 664.22,382.71 C665.31,383.78 666.84,385.21 666.87,386.50 Z" fill="#b97f6a"/>
<path d="M664.18,386.20 C664.13,387.18 662.85,388.31 661.94,389.00 C661.03,389.70 659.75,390.40 658.70,390.37 C657.65,390.35 656.56,389.56 655.62,388.86 C654.69,388.17 653.09,387.09 653.09,386.20 C653.09,385.31 654.67,384.26 655.60,383.52 C656.54,382.78 657.59,381.82 658.70,381.76 C659.81,381.69 661.34,382.38 662.26,383.13 C663.17,383.87 664.24,385.22 664.18,386.20 Z" fill="#cea090" opacity="0.75"/>
<path d="M563.99,419.10 C564.03,420.21 563.70,421.73 562.85,422.51 C561.99,423.30 560.18,423.69 558.83,423.83 C557.49,423.96 555.87,423.85 554.77,423.33 C553.67,422.82 552.64,421.71 552.23,420.73 C551.82,419.76 551.92,418.53 552.29,417.48 C552.67,416.44 553.41,414.98 554.49,414.48 C555.58,413.98 557.46,414.23 558.81,414.46 C560.16,414.69 561.73,415.08 562.60,415.85 C563.46,416.63 563.95,417.99 563.99,419.10 Z" fill="#b67a68"/>
<path d="M561.16,418.80 C561.14,419.52 560.73,420.31 560.12,420.92 C559.51,421.52 558.43,422.39 557.50,422.44 C556.57,422.48 555.21,421.77 554.57,421.16 C553.93,420.56 553.65,419.56 553.68,418.80 C553.71,418.04 554.11,417.14 554.75,416.58 C555.39,416.02 556.58,415.46 557.50,415.46 C558.42,415.46 559.63,416.03 560.24,416.59 C560.85,417.14 561.18,418.08 561.16,418.80 Z" fill="#cb9a8a" opacity="0.75"/>
<path d="M587.56,417.20 C587.50,418.47 587.11,419.90 586.35,420.85 C585.59,421.80 584.21,422.67 583.00,422.90 C581.80,423.12 580.10,422.85 579.11,422.20 C578.12,421.55 577.47,420.16 577.05,419.00 C576.63,417.84 576.21,416.31 576.57,415.23 C576.94,414.14 578.19,413.11 579.27,412.46 C580.34,411.82 581.79,411.24 583.03,411.38 C584.27,411.51 585.95,412.28 586.71,413.25 C587.47,414.22 587.62,415.93 587.56,417.20 Z" fill="#b67a68"/>
<path d="M585.98,416.90 C586.09,417.77 585.37,419.19 584.66,419.86 C583.94,420.53 582.60,421.01 581.70,420.92 C580.80,420.84 579.85,420.01 579.26,419.34 C578.66,418.67 578.19,417.78 578.13,416.90 C578.06,416.02 578.27,414.75 578.87,414.07 C579.46,413.38 580.85,412.70 581.70,412.79 C582.55,412.88 583.26,413.94 583.97,414.63 C584.69,415.31 585.87,416.03 585.98,416.90 Z" fill="#cb9a8a" opacity="0.75"/>
<path d="M609.40,420.94 C608.61,421.39 607.32,421.16 606.14,420.73 C604.96,420.30 603.27,419.56 602.31,418.36 C601.35,417.16 600.65,414.97 600.38,413.53 C600.11,412.08 600.27,410.71 600.68,409.69 C601.09,408.67 601.84,407.37 602.83,407.40 C603.82,407.42 605.43,408.82 606.63,409.84 C607.83,410.85 609.34,412.11 610.04,413.48 C610.74,414.85 610.96,416.81 610.85,418.06 C610.74,419.30 610.18,420.49 609.40,420.94 Z" fill="#b67a68"/>
<path d="M607.53,418.13 C606.99,418.53 606.13,418.97 605.34,418.60 C604.56,418.23 603.51,416.95 602.81,415.89 C602.11,414.83 601.19,413.22 601.13,412.24 C601.07,411.26 601.80,410.33 602.45,410.00 C603.11,409.67 604.14,409.83 605.06,410.28 C605.98,410.72 607.40,411.67 607.99,412.66 C608.57,413.65 608.66,415.28 608.59,416.20 C608.51,417.11 608.07,417.73 607.53,418.13 Z" fill="#cb9a8a" opacity="0.75"/>
<path d="M639.04,415.00 C639.14,416.29 638.89,418.13 637.95,419.08 C637.01,420.03 634.95,420.50 633.39,420.70 C631.83,420.90 629.93,420.88 628.59,420.28 C627.26,419.68 625.93,418.32 625.39,417.09 C624.86,415.86 624.84,414.12 625.39,412.90 C625.93,411.69 627.30,410.50 628.65,409.81 C630.01,409.11 632.06,408.48 633.51,408.74 C634.95,409.00 636.42,410.31 637.34,411.35 C638.26,412.40 638.94,413.71 639.04,415.00 Z" fill="#b67a68"/>
<path d="M636.16,414.70 C636.16,415.62 635.87,416.76 635.16,417.46 C634.45,418.16 632.95,418.93 631.90,418.90 C630.85,418.86 629.74,417.95 628.88,417.26 C628.01,416.56 626.71,415.56 626.70,414.70 C626.70,413.84 627.97,412.70 628.84,412.11 C629.70,411.52 630.85,411.19 631.90,411.16 C632.95,411.13 634.45,411.36 635.16,411.95 C635.87,412.54 636.15,413.78 636.16,414.70 Z" fill="#cb9a8a" opacity="0.75"/>
<path d="M667.44,412.89 C667.72,413.85 667.65,415.14 666.94,416.16 C666.24,417.18 664.69,418.44 663.23,419.01 C661.77,419.58 659.61,419.77 658.20,419.58 C656.80,419.38 655.56,418.62 654.81,417.85 C654.06,417.07 653.48,415.95 653.70,414.93 C653.93,413.92 654.98,412.61 656.15,411.76 C657.32,410.90 659.22,410.02 660.74,409.80 C662.25,409.58 664.14,409.91 665.26,410.42 C666.37,410.94 667.16,411.94 667.44,412.89 Z" fill="#b67a68"/>
<path d="M665.10,413.14 C665.25,413.88 664.88,414.86 664.25,415.62 C663.61,416.37 662.43,417.32 661.28,417.68 C660.12,418.04 658.29,418.09 657.32,417.77 C656.35,417.45 655.54,416.49 655.43,415.73 C655.33,414.97 656.00,413.94 656.69,413.23 C657.39,412.51 658.50,411.78 659.61,411.44 C660.71,411.10 662.42,410.90 663.34,411.18 C664.26,411.47 664.95,412.40 665.10,413.14 Z" fill="#cb9a8a" opacity="0.75"/>
<path d="M563.70,446.30 C563.71,447.61 562.72,449.28 561.84,450.25 C560.97,451.23 559.66,451.91 558.45,452.17 C557.24,452.43 555.73,452.37 554.58,451.79 C553.43,451.20 551.92,449.91 551.54,448.65 C551.15,447.39 551.76,445.56 552.26,444.23 C552.76,442.91 553.48,441.42 554.53,440.71 C555.57,440.00 557.31,439.69 558.53,439.96 C559.75,440.24 560.96,441.31 561.82,442.37 C562.68,443.42 563.70,444.99 563.70,446.30 Z" fill="#bb826f"/>
<path d="M560.92,446.00 C560.82,447.02 560.34,447.95 559.72,448.73 C559.10,449.51 558.11,450.59 557.20,450.67 C556.29,450.74 554.98,449.98 554.25,449.20 C553.52,448.42 552.77,447.03 552.81,446.00 C552.85,444.97 553.75,443.74 554.48,443.05 C555.21,442.36 556.23,441.92 557.20,441.85 C558.17,441.77 559.71,441.91 560.33,442.61 C560.95,443.30 561.02,444.98 560.92,446.00 Z" fill="#cfa292" opacity="0.75"/>
<path d="M585.40,445.50 C585.45,446.54 585.23,447.99 584.58,448.76 C583.93,449.52 582.57,449.91 581.51,450.09 C580.45,450.26 579.16,450.29 578.21,449.82 C577.26,449.35 576.24,448.31 575.81,447.28 C575.38,446.25 575.25,444.68 575.65,443.66 C576.05,442.64 577.19,441.74 578.19,441.16 C579.19,440.58 580.63,439.96 581.64,440.18 C582.65,440.41 583.62,441.64 584.25,442.52 C584.87,443.41 585.34,444.46 585.40,445.50 Z" fill="#bb826f"/>
<path d="M583.68,445.20 C583.69,446.03 583.45,447.21 582.90,447.70 C582.36,448.20 581.21,448.17 580.40,448.15 C579.59,448.12 578.66,448.06 578.03,447.57 C577.41,447.08 576.67,446.01 576.64,445.20 C576.62,444.39 577.28,443.26 577.90,442.70 C578.53,442.15 579.57,441.87 580.40,441.87 C581.23,441.88 582.31,442.18 582.86,442.74 C583.41,443.29 583.68,444.37 583.68,445.20 Z" fill="#cfa292" opacity="0.75"/>
<path d="M611.36,444.70 C611.78,446.03 612.59,447.72 611.93,448.72 C611.27,449.73 609.01,450.61 607.38,450.74 C605.76,450.87 603.42,450.18 602.17,449.50 C600.92,448.81 600.10,447.76 599.91,446.62 C599.72,445.48 600.34,443.79 601.03,442.65 C601.71,441.50 603.11,440.34 604.03,439.73 C604.94,439.12 605.62,438.81 606.51,438.98 C607.41,439.15 608.59,439.80 609.40,440.75 C610.20,441.70 610.94,443.37 611.36,444.70 Z" fill="#bb826f"/>
<path d="M608.92,444.40 C609.17,445.26 609.48,446.30 608.93,446.99 C608.37,447.69 606.80,448.50 605.60,448.57 C604.40,448.64 602.43,448.13 601.71,447.44 C600.98,446.74 600.97,445.43 601.24,444.40 C601.52,443.37 602.62,441.84 603.35,441.26 C604.07,440.67 604.92,440.78 605.60,440.87 C606.28,440.97 606.88,441.26 607.43,441.84 C607.99,442.43 608.67,443.54 608.92,444.40 Z" fill="#cfa292" opacity="0.75"/>
<path d="M637.36,445.40 C637.31,446.32 637.11,447.42 636.45,448.06 C635.79,448.69 634.45,449.08 633.42,449.21 C632.38,449.33 631.16,449.19 630.22,448.80 C629.27,448.41 628.11,447.66 627.73,446.86 C627.35,446.06 627.54,444.84 627.94,444.00 C628.33,443.16 629.18,442.24 630.09,441.82 C631.01,441.41 632.32,441.41 633.43,441.53 C634.54,441.65 636.09,441.89 636.75,442.54 C637.40,443.18 637.41,444.48 637.36,445.40 Z" fill="#bb826f"/>
<path d="M632.34,441.90 C632.29,442.64 632.05,443.46 631.58,444.02 C631.11,444.59 630.27,445.19 629.54,445.30 C628.80,445.42 627.88,445.08 627.18,444.72 C626.47,444.36 625.57,443.80 625.30,443.14 C625.04,442.48 625.26,441.43 625.57,440.76 C625.88,440.08 626.53,439.42 627.18,439.09 C627.83,438.77 628.70,438.73 629.48,438.81 C630.25,438.89 631.37,439.05 631.85,439.57 C632.32,440.08 632.38,441.16 632.34,441.90 Z" fill="#bb826f"/>
<path d="M633.73,446.22 C633.21,446.74 632.37,447.07 631.59,447.11 C630.82,447.15 629.86,446.89 629.10,446.46 C628.33,446.03 627.35,445.27 627.00,444.53 C626.65,443.79 626.79,442.78 626.99,442.02 C627.19,441.27 627.58,440.31 628.22,440.02 C628.87,439.72 630.02,440.00 630.86,440.26 C631.70,440.51 632.62,440.92 633.26,441.55 C633.89,442.17 634.59,443.23 634.67,444.01 C634.74,444.79 634.24,445.71 633.73,446.22 Z" fill="#bb826f"/>
<path d="M635.50,445.10 C635.49,445.75 635.17,446.58 634.64,447.02 C634.10,447.47 633.09,447.77 632.30,447.78 C631.51,447.79 630.46,447.53 629.90,447.08 C629.34,446.63 628.95,445.77 628.93,445.10 C628.91,444.43 629.23,443.54 629.80,443.04 C630.36,442.54 631.48,442.08 632.30,442.10 C633.12,442.11 634.17,442.62 634.70,443.12 C635.24,443.62 635.51,444.45 635.50,445.10 Z" fill="#cfa292" opacity="0.75"/>
<path d="M665.00,442.00 C665.05,443.35 664.25,445.15 663.27,446.15 C662.29,447.15 660.58,447.78 659.13,448.02 C657.68,448.26 655.69,448.28 654.56,447.59 C653.42,446.91 652.79,445.22 652.33,443.94 C651.87,442.65 651.41,441.13 651.78,439.88 C652.15,438.62 653.32,437.03 654.54,436.38 C655.77,435.74 657.71,435.73 659.13,436.01 C660.54,436.29 662.04,437.05 663.02,438.05 C664.00,439.05 664.96,440.65 665.00,442.00 Z" fill="#bb826f"/>
<path d="M665.99,448.58 C665.52,449.21 664.69,449.76 663.85,449.88 C663.00,450.01 661.79,449.78 660.93,449.34 C660.07,448.89 659.15,448.02 658.67,447.22 C658.20,446.42 657.91,445.29 658.07,444.54 C658.23,443.78 658.94,443.14 659.63,442.71 C660.32,442.28 661.30,441.83 662.20,441.97 C663.10,442.10 664.28,442.83 665.02,443.53 C665.76,444.22 666.48,445.29 666.64,446.13 C666.80,446.97 666.45,447.96 665.99,448.58 Z" fill="#bb826f"/>
<path d="M662.46,441.70 C662.42,442.56 661.12,443.41 660.33,444.17 C659.54,444.93 658.62,446.24 657.70,446.27 C656.78,446.31 655.57,445.15 654.83,444.39 C654.09,443.63 653.29,442.63 653.26,441.70 C653.23,440.77 653.90,439.53 654.64,438.83 C655.38,438.13 656.71,437.47 657.70,437.50 C658.69,437.53 659.78,438.31 660.57,439.01 C661.36,439.71 662.50,440.84 662.46,441.70 Z" fill="#cfa292" opacity="0.75"/>
<path d="M564.94,474.85 C564.93,475.62 563.64,476.61 562.57,477.29 C561.49,477.97 560.06,478.56 558.50,478.92 C556.93,479.28 554.54,479.70 553.18,479.47 C551.81,479.24 550.83,478.26 550.32,477.56 C549.80,476.86 549.68,476.01 550.09,475.25 C550.50,474.49 551.49,473.55 552.78,472.99 C554.08,472.43 556.24,471.92 557.88,471.87 C559.53,471.82 561.46,472.19 562.64,472.69 C563.81,473.19 564.95,474.09 564.94,474.85 Z" fill="#c6a08c"/>
<path d="M561.31,474.90 C561.31,475.43 560.60,476.06 559.86,476.54 C559.12,477.02 557.96,477.63 556.85,477.79 C555.74,477.94 553.98,477.78 553.22,477.46 C552.47,477.13 552.46,476.43 552.34,475.85 C552.22,475.27 551.86,474.48 552.52,473.97 C553.19,473.46 555.10,472.90 556.33,472.80 C557.56,472.71 559.08,473.03 559.91,473.38 C560.74,473.73 561.32,474.38 561.31,474.90 Z" fill="#d8baa8" opacity="0.75"/>
<path d="M587.62,473.70 C587.66,474.77 587.57,476.18 586.95,477.01 C586.32,477.84 584.93,478.56 583.88,478.68 C582.83,478.80 581.54,478.31 580.66,477.75 C579.79,477.18 579.03,476.24 578.65,475.28 C578.27,474.33 578.03,472.93 578.38,472.02 C578.73,471.11 579.86,470.27 580.76,469.81 C581.66,469.36 582.79,469.16 583.78,469.30 C584.76,469.43 586.04,469.88 586.68,470.61 C587.32,471.35 587.57,472.63 587.62,473.70 Z" fill="#c6a08c"/>
<path d="M585.53,473.40 C585.49,474.16 585.32,475.10 584.85,475.55 C584.38,476.01 583.40,476.15 582.70,476.13 C582.00,476.12 581.21,475.90 580.65,475.45 C580.10,474.99 579.38,474.08 579.38,473.40 C579.38,472.72 580.10,471.92 580.65,471.35 C581.20,470.78 581.96,470.03 582.70,469.97 C583.44,469.91 584.62,470.43 585.10,471.00 C585.57,471.58 585.57,472.64 585.53,473.40 Z" fill="#d8baa8" opacity="0.75"/>
<path d="M609.42,479.11 C608.77,479.65 607.45,479.76 606.40,479.40 C605.36,479.03 603.97,477.95 603.14,476.92 C602.32,475.89 601.76,474.42 601.45,473.24 C601.14,472.05 600.97,470.67 601.29,469.81 C601.61,468.95 602.47,468.17 603.37,468.08 C604.28,467.98 605.67,468.53 606.70,469.26 C607.74,469.98 608.99,471.29 609.58,472.44 C610.18,473.59 610.31,475.04 610.29,476.15 C610.26,477.27 610.06,478.57 609.42,479.11 Z" fill="#c6a08c"/>
<path d="M607.86,477.01 C607.33,477.38 606.39,477.46 605.58,477.15 C604.77,476.85 603.60,476.04 602.99,475.19 C602.38,474.34 601.92,472.86 601.94,472.04 C601.96,471.22 602.58,470.61 603.13,470.26 C603.68,469.91 604.50,469.63 605.22,469.92 C605.95,470.22 606.90,471.20 607.50,472.03 C608.09,472.86 608.71,474.09 608.77,474.92 C608.83,475.75 608.39,476.64 607.86,477.01 Z" fill="#d8baa8" opacity="0.75"/>
<path d="M634.27,476.52 C633.85,477.29 633.34,478.29 632.51,478.59 C631.69,478.88 630.29,478.68 629.31,478.30 C628.33,477.92 627.13,477.13 626.63,476.31 C626.12,475.50 626.11,474.26 626.29,473.42 C626.47,472.58 627.03,471.79 627.70,471.27 C628.37,470.76 629.38,470.27 630.30,470.30 C631.21,470.34 632.40,470.88 633.20,471.49 C633.99,472.10 634.87,473.14 635.05,473.98 C635.23,474.82 634.70,475.75 634.27,476.52 Z" fill="#c6a08c"/>
<path d="M632.68,475.48 C632.34,476.07 631.98,476.99 631.38,477.12 C630.78,477.25 629.75,476.64 629.07,476.23 C628.39,475.82 627.48,475.24 627.28,474.65 C627.08,474.06 627.51,473.21 627.85,472.69 C628.20,472.16 628.72,471.68 629.37,471.50 C630.01,471.32 631.05,471.29 631.73,471.63 C632.40,471.97 633.25,472.89 633.41,473.54 C633.57,474.18 633.02,474.88 632.68,475.48 Z" fill="#d8baa8" opacity="0.75"/>
<path d="M660.15,477.05 C660.01,478.34 659.64,479.74 659.17,480.74 C658.69,481.73 657.94,482.80 657.30,483.02 C656.65,483.23 655.84,482.74 655.31,482.04 C654.77,481.33 654.20,480.03 654.09,478.76 C653.99,477.50 654.29,475.66 654.65,474.46 C655.02,473.25 655.66,472.24 656.29,471.54 C656.92,470.84 657.83,470.02 658.45,470.26 C659.07,470.50 659.73,471.85 660.01,472.98 C660.30,474.11 660.29,475.76 660.15,477.05 Z" fill="#c6a08c"/>
<path d="M659.07,476.68 C658.98,477.56 658.45,478.63 658.05,479.21 C657.65,479.79 657.17,480.10 656.68,480.17 C656.19,480.25 655.39,480.29 655.09,479.65 C654.79,479.01 654.72,477.30 654.86,476.31 C655.00,475.33 655.51,474.49 655.93,473.75 C656.36,473.00 656.97,471.80 657.41,471.83 C657.85,471.86 658.29,473.11 658.56,473.92 C658.84,474.73 659.15,475.80 659.07,476.68 Z" fill="#d8baa8" opacity="0.75"/>
<path d="M560.10,501.50 C560.08,502.55 559.91,503.83 559.46,504.58 C559.00,505.33 558.12,505.82 557.38,506.02 C556.63,506.23 555.62,506.30 555.00,505.81 C554.38,505.32 553.91,504.08 553.66,503.08 C553.41,502.08 553.24,500.78 553.48,499.83 C553.71,498.88 554.42,497.93 555.08,497.39 C555.74,496.85 556.68,496.42 557.43,496.57 C558.18,496.71 559.15,497.44 559.59,498.26 C560.04,499.08 560.12,500.45 560.10,501.50 Z" fill="#c49e8a"/>
<path d="M558.49,501.20 C558.46,501.99 558.46,503.00 558.13,503.45 C557.80,503.90 557.03,503.91 556.50,503.90 C555.97,503.89 555.32,503.83 554.92,503.38 C554.52,502.93 554.12,501.98 554.09,501.20 C554.05,500.42 554.29,499.22 554.69,498.70 C555.09,498.18 555.89,498.08 556.50,498.08 C557.11,498.08 557.99,498.16 558.32,498.68 C558.65,499.20 558.52,500.41 558.49,501.20 Z" fill="#d6b6a4" opacity="0.75"/>
<path d="M586.36,502.37 C586.05,503.27 585.50,504.38 584.88,504.95 C584.27,505.51 583.35,505.80 582.67,505.76 C581.99,505.73 581.18,505.37 580.80,504.72 C580.43,504.08 580.25,502.83 580.41,501.90 C580.56,500.97 581.19,499.98 581.72,499.16 C582.26,498.33 582.97,497.21 583.62,496.95 C584.27,496.69 585.09,497.17 585.61,497.60 C586.14,498.02 586.64,498.72 586.76,499.52 C586.89,500.31 586.67,501.46 586.36,502.37 Z" fill="#c49e8a"/>
<path d="M585.03,501.69 C584.84,502.32 584.44,503.18 584.00,503.56 C583.55,503.93 582.83,504.09 582.36,503.96 C581.88,503.83 581.26,503.34 581.14,502.76 C581.02,502.18 581.37,501.14 581.65,500.46 C581.93,499.79 582.38,499.00 582.82,498.71 C583.25,498.42 583.88,498.53 584.27,498.71 C584.66,498.89 585.06,499.29 585.18,499.79 C585.31,500.29 585.23,501.07 585.03,501.69 Z" fill="#d6b6a4" opacity="0.75"/>
<path d="M608.24,500.40 C608.25,501.22 608.13,502.31 607.66,502.85 C607.20,503.40 606.18,503.59 605.45,503.68 C604.72,503.77 603.95,503.69 603.28,503.37 C602.62,503.04 601.70,502.41 601.47,501.72 C601.24,501.04 601.60,499.95 601.91,499.25 C602.22,498.55 602.73,497.91 603.32,497.51 C603.92,497.11 604.77,496.77 605.49,496.85 C606.21,496.92 607.19,497.37 607.65,497.96 C608.10,498.55 608.24,499.58 608.24,500.40 Z" fill="#c49e8a"/>
<path d="M606.96,500.10 C607.02,500.64 606.68,501.50 606.29,501.89 C605.90,502.28 605.12,502.50 604.60,502.46 C604.08,502.41 603.55,502.00 603.17,501.61 C602.80,501.22 602.36,500.63 602.34,500.10 C602.32,499.57 602.67,498.82 603.05,498.46 C603.42,498.10 604.12,497.92 604.60,497.95 C605.08,497.99 605.56,498.31 605.95,498.67 C606.34,499.03 606.90,499.56 606.96,500.10 Z" fill="#d6b6a4" opacity="0.75"/>
<path d="M633.34,501.70 C633.35,502.54 632.74,503.54 632.25,504.21 C631.77,504.88 631.12,505.55 630.46,505.72 C629.80,505.89 628.94,505.64 628.30,505.22 C627.67,504.80 626.93,504.05 626.65,503.20 C626.37,502.36 626.36,501.08 626.61,500.17 C626.85,499.27 627.48,498.22 628.12,497.78 C628.77,497.34 629.79,497.29 630.48,497.53 C631.17,497.76 631.77,498.50 632.25,499.19 C632.73,499.89 633.34,500.86 633.34,501.70 Z" fill="#c49e8a"/>
<path d="M631.70,501.40 C631.64,502.05 631.34,502.77 630.99,503.17 C630.64,503.56 630.11,503.70 629.60,503.76 C629.09,503.82 628.30,503.90 627.94,503.51 C627.59,503.11 627.40,502.04 627.45,501.40 C627.50,500.76 627.87,500.08 628.23,499.65 C628.59,499.23 629.09,498.93 629.60,498.86 C630.11,498.79 630.95,498.82 631.30,499.24 C631.65,499.66 631.75,500.75 631.70,501.40 Z" fill="#d6b6a4" opacity="0.75"/>
<path d="M660.36,502.50 C660.36,503.33 660.24,504.40 659.82,505.01 C659.40,505.62 658.55,506.00 657.84,506.16 C657.14,506.33 656.15,506.41 655.60,506.00 C655.04,505.59 654.74,504.50 654.52,503.70 C654.30,502.90 654.07,501.93 654.27,501.19 C654.47,500.45 655.13,499.66 655.73,499.27 C656.32,498.87 657.17,498.68 657.85,498.80 C658.53,498.93 659.39,499.39 659.80,500.01 C660.22,500.62 660.35,501.67 660.36,502.50 Z" fill="#c49e8a"/>
<path d="M658.89,502.20 C658.95,502.80 659.01,503.86 658.70,504.22 C658.38,504.57 657.52,504.40 657.00,504.35 C656.48,504.29 655.99,504.24 655.58,503.88 C655.18,503.52 654.60,502.79 654.58,502.20 C654.55,501.61 655.03,500.75 655.43,500.34 C655.83,499.92 656.51,499.68 657.00,499.72 C657.49,499.76 658.04,500.18 658.36,500.59 C658.67,501.00 658.83,501.60 658.89,502.20 Z" fill="#d6b6a4" opacity="0.75"/>
<line x1="663.90" y1="506.00" x2="672.00" y2="506.00" stroke="#888" stroke-width="1.6"/>
</svg></body></html>
